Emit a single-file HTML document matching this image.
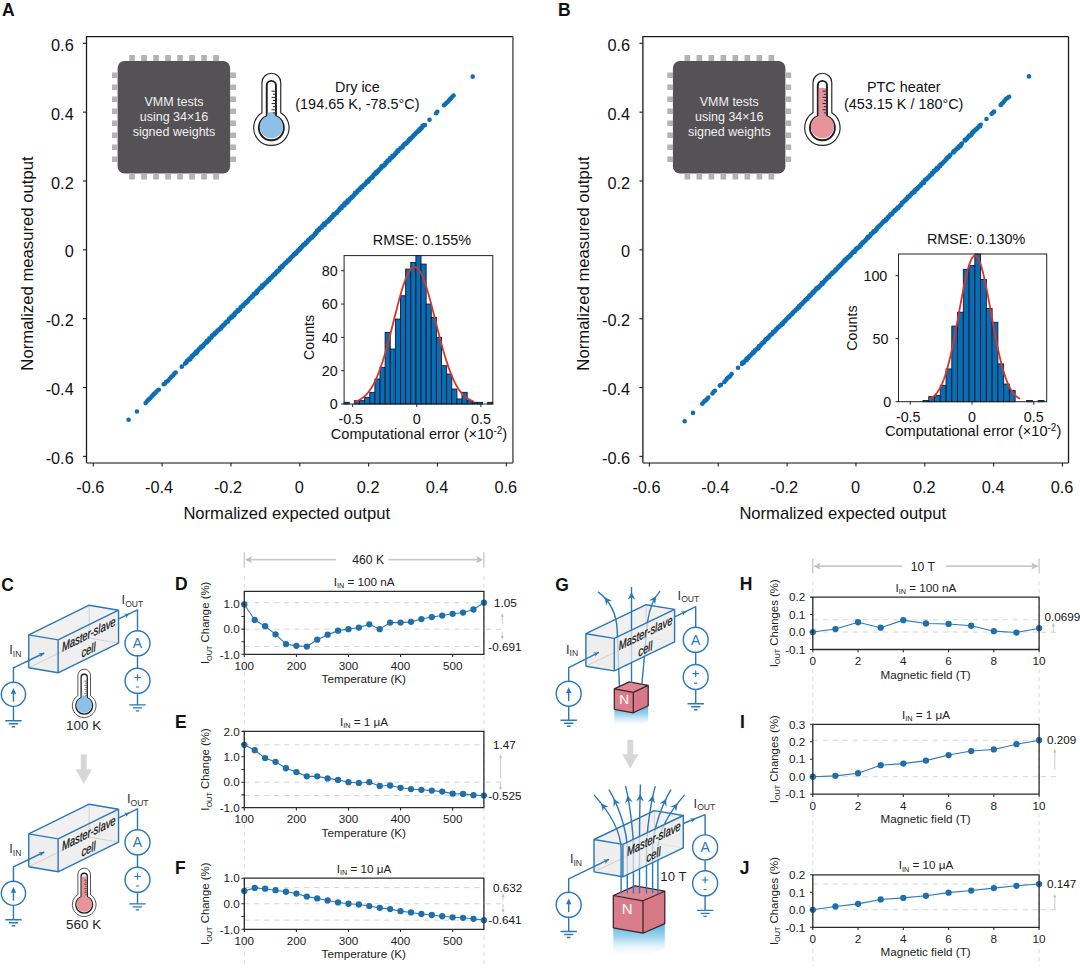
<!DOCTYPE html>
<html><head><meta charset="utf-8"><style>
html,body{margin:0;padding:0;background:#fff;}
svg{display:block;font-family:"Liberation Sans", sans-serif;}
</style></head><body>
<svg width="1080" height="971" viewBox="0 0 1080 971">
<text x="2" y="16" font-size="17.5" text-anchor="start" font-weight="bold" fill="#111" >A</text>
<path d="M86.5 463V36.6H512.9" fill="none" stroke="#1a1a1a" stroke-width="1.3"/>
<path d="M86.5 463H512.9" fill="none" stroke="#5a5a5a" stroke-width="1.6"/>
<path d="M512.9 36.6V463" fill="none" stroke="#6a6a6a" stroke-width="1.7"/>
<line x1="83.0" y1="43.3" x2="86.5" y2="43.3" stroke="#1e1e1e" stroke-width="1.1"/>
<text x="73.7" y="50.8" font-size="16.3" text-anchor="end" font-weight="normal" fill="#111" >0.6</text>
<line x1="83.0" y1="112.15" x2="86.5" y2="112.15" stroke="#1e1e1e" stroke-width="1.1"/>
<text x="73.7" y="119.65" font-size="16.3" text-anchor="end" font-weight="normal" fill="#111" >0.4</text>
<line x1="83.0" y1="181" x2="86.5" y2="181" stroke="#1e1e1e" stroke-width="1.1"/>
<text x="73.7" y="188.5" font-size="16.3" text-anchor="end" font-weight="normal" fill="#111" >0.2</text>
<line x1="83.0" y1="249.85" x2="86.5" y2="249.85" stroke="#1e1e1e" stroke-width="1.1"/>
<text x="73.7" y="257.35" font-size="16.3" text-anchor="end" font-weight="normal" fill="#111" >0</text>
<line x1="83.0" y1="318.7" x2="86.5" y2="318.7" stroke="#1e1e1e" stroke-width="1.1"/>
<text x="73.7" y="326.2" font-size="16.3" text-anchor="end" font-weight="normal" fill="#111" >-0.2</text>
<line x1="83.0" y1="387.55" x2="86.5" y2="387.55" stroke="#1e1e1e" stroke-width="1.1"/>
<text x="73.7" y="395.05" font-size="16.3" text-anchor="end" font-weight="normal" fill="#111" >-0.4</text>
<line x1="83.0" y1="456.4" x2="86.5" y2="456.4" stroke="#1e1e1e" stroke-width="1.1"/>
<text x="73.7" y="463.9" font-size="16.3" text-anchor="end" font-weight="normal" fill="#111" >-0.6</text>
<line x1="93.28" y1="463.0" x2="93.28" y2="466.5" stroke="#1e1e1e" stroke-width="1.1"/>
<text x="90.28" y="492.5" font-size="16.3" text-anchor="middle" font-weight="normal" fill="#111" >-0.6</text>
<line x1="162.12" y1="463.0" x2="162.12" y2="466.5" stroke="#1e1e1e" stroke-width="1.1"/>
<text x="159.12" y="492.5" font-size="16.3" text-anchor="middle" font-weight="normal" fill="#111" >-0.4</text>
<line x1="230.96" y1="463.0" x2="230.96" y2="466.5" stroke="#1e1e1e" stroke-width="1.1"/>
<text x="227.96" y="492.5" font-size="16.3" text-anchor="middle" font-weight="normal" fill="#111" >-0.2</text>
<line x1="299.8" y1="463.0" x2="299.8" y2="466.5" stroke="#1e1e1e" stroke-width="1.1"/>
<text x="299.3" y="492.5" font-size="16.3" text-anchor="middle" font-weight="normal" fill="#111" >0</text>
<line x1="368.64" y1="463.0" x2="368.64" y2="466.5" stroke="#1e1e1e" stroke-width="1.1"/>
<text x="368.14" y="492.5" font-size="16.3" text-anchor="middle" font-weight="normal" fill="#111" >0.2</text>
<line x1="437.48" y1="463.0" x2="437.48" y2="466.5" stroke="#1e1e1e" stroke-width="1.1"/>
<text x="436.98" y="492.5" font-size="16.3" text-anchor="middle" font-weight="normal" fill="#111" >0.4</text>
<line x1="506.32" y1="463.0" x2="506.32" y2="466.5" stroke="#1e1e1e" stroke-width="1.1"/>
<text x="505.82" y="492.5" font-size="16.3" text-anchor="middle" font-weight="normal" fill="#111" >0.6</text>
<text x="286.7" y="518.5" font-size="16.6" text-anchor="middle" font-weight="normal" fill="#111" >Normalized expected output</text>
<text transform="translate(33,263.5) rotate(-90)" font-size="16.7" text-anchor="middle" fill="#111">Normalized measured output</text>
<rect x="117.6" y="61" width="112.5" height="112.5" rx="7" fill="#545254"/>
<path d="M129.2 55h5.7v6h-5.7z M129.2 173.5h5.7v6h-5.7z M112 72.4h5.8v5.6h-5.8z M230.1 72.4h5.8v5.6h-5.8z M141.2 55h5.7v6h-5.7z M141.2 173.5h5.7v6h-5.7z M112 84.4h5.8v5.6h-5.8z M230.1 84.4h5.8v5.6h-5.8z M153.2 55h5.7v6h-5.7z M153.2 173.5h5.7v6h-5.7z M112 96.4h5.8v5.6h-5.8z M230.1 96.4h5.8v5.6h-5.8z M165.2 55h5.7v6h-5.7z M165.2 173.5h5.7v6h-5.7z M112 108.4h5.8v5.6h-5.8z M230.1 108.4h5.8v5.6h-5.8z M177.2 55h5.7v6h-5.7z M177.2 173.5h5.7v6h-5.7z M112 120.4h5.8v5.6h-5.8z M230.1 120.4h5.8v5.6h-5.8z M189.2 55h5.7v6h-5.7z M189.2 173.5h5.7v6h-5.7z M112 132.4h5.8v5.6h-5.8z M230.1 132.4h5.8v5.6h-5.8z M201.2 55h5.7v6h-5.7z M201.2 173.5h5.7v6h-5.7z M112 144.4h5.8v5.6h-5.8z M230.1 144.4h5.8v5.6h-5.8z M213.2 55h5.7v6h-5.7z M213.2 173.5h5.7v6h-5.7z M112 156.4h5.8v5.6h-5.8z M230.1 156.4h5.8v5.6h-5.8z" fill="#b3b3b3"/>
<text x="174" y="106" font-size="12.5" text-anchor="middle" font-weight="normal" fill="#f0f0f0" >VMM tests</text>
<text x="174" y="121" font-size="12.5" text-anchor="middle" font-weight="normal" fill="#f0f0f0" >using 34×16</text>
<text x="174" y="136" font-size="12.5" text-anchor="middle" font-weight="normal" fill="#f0f0f0" >signed weights</text>
<g transform="translate(271.35,127.65) scale(1.0)">
<path d="M-9.4 -45.0 A9.4 9.4 0 0 1 9.4 -45.0 V-14.9 A17.7 17.7 0 1 1 -9.4 -14.9 Z" fill="#fff" stroke="#222" stroke-width="1.15"/>
<path d="M-4.6 -42.2 A4.6 4.6 0 0 1 4.6 -42.2 V-11.5 A12.5 12.5 0 1 1 -4.6 -11.5 Z" fill="#fff" stroke="#1e1e1e" stroke-width="1.9"/>
<path d="M-3.7 -15.5 H3.7 V-11.9 A11.6 11.6 0 1 1 -3.7 -11.9 Z" fill="#8cc0e8"/>
<path d="M0.2 -36.5H3.8 M1.5 -33.4H3.8 M0.2 -30.3H3.8 M1.5 -27.2H3.8 M0.2 -24.1H3.8 M1.5 -21H3.8 M0.2 -17.9H3.8 M1.5 -14.8H3.8" stroke="#1e1e1e" stroke-width="0.95" fill="none"/>
</g>
<text x="357.4" y="92" font-size="14.4" text-anchor="middle" font-weight="normal" fill="#111" >Dry ice</text>
<text x="357.4" y="108.5" font-size="14.4" text-anchor="middle" font-weight="normal" fill="#111" >(194.65 K, -78.5°C)</text>
<path d="M185.09 363.59h0M185.44 363.22h0M186.22 362.19h0M186.7 361.88h0M186.92 361.15h0M187.45 360.84h0M188.15 360.37h0M188.53 359.61h0M189.28 359.76h0M189.64 358.63h0M190.49 359.01h0M190.57 358.01h0M190.99 357.53h0M191.89 357.01h0M192.01 355.82h0M192.62 355.53h0M193.23 355.42h0M193.52 354.85h0M194.31 354h0M194.75 353.95h0M195.17 353.1h0M195.82 353.45h0M196.05 351.89h0M196.93 351.6h0M197.34 351.06h0M197.47 351.84h0M198.15 350.32h0M198.69 349.6h0M198.92 349h0M199.74 348.25h0M200.43 348.09h0M200.76 348.36h0M201.25 346.62h0M201.97 347.02h0M202.18 346.26h0M202.82 345.71h0M203.29 346.03h0M203.57 344.8h0M204.13 344.29h0M204.68 343.76h0M205 343.43h0M205.86 342.92h0M205.98 342.34h0M206.92 342.22h0M206.95 340.88h0M207.93 340.99h0M208.39 340.54h0M208.65 339.61h0M209.12 340.06h0M209.49 338.21h0M210.01 338.38h0M210.69 338.13h0M211.25 337.35h0M211.65 336.89h0M212.12 335.5h0M212.81 335.48h0M213.21 334.94h0M213.43 334.48h0M214.44 334.51h0M214.88 333.1h0M215.14 333.22h0M215.78 332.97h0M215.94 332.6h0M216.5 331.98h0M217.1 331.38h0M217.49 330.87h0M217.96 330.32h0M218.92 329.94h0M219.27 329.55h0M219.61 329.11h0M220.12 328.91h0M221 328.4h0M221.18 327.22h0M221.46 326.9h0M222.11 326.32h0M222.5 326.6h0M222.91 325.83h0M223.49 324.75h0M224.23 324.85h0M224.99 323.97h0M225.42 323.3h0M225.62 322.62h0M226 322.46h0M226.87 321.44h0M227.1 321.52h0M227.99 321.59h0M228.41 320.65h0M228.84 319.25h0M229.04 319.05h0M229.42 318.87h0M229.92 318.36h0M230.82 318.2h0M231.47 316.57h0M231.99 317.21h0M232.47 316.24h0M232.54 316.12h0M233.02 315.57h0M233.94 315.43h0M234.4 313.87h0M234.88 313.99h0M234.95 312.98h0M235.87 312.22h0M236.35 312.19h0M236.87 311.96h0M237.1 311.75h0M237.64 309.97h0M238.14 311.01h0M238.5 309.74h0M238.98 309.92h0M239.88 309.61h0M239.99 308.93h0M240.79 307h0M241.11 307.25h0M241.41 306.88h0M242.48 306.17h0M242.96 305.57h0M243.16 305.94h0M243.53 304.44h0M244.05 304.38h0M244.75 304.23h0M245.06 303.28h0M245.95 303.06h0M246.11 301.97h0M246.94 302.09h0M247.15 301.85h0M247.72 300.74h0M248.21 300.87h0M248.51 300.01h0M248.9 299.54h0M249.68 298.75h0M250.34 298.15h0M250.71 297.86h0M251.23 297.51h0M251.74 296.8h0M252.05 296.37h0M252.7 296.62h0M253.24 295.53h0M253.67 294.14h0M254.27 294.03h0M254.82 293.97h0M255.17 293.06h0M255.96 292.9h0M256.32 293.14h0M256.56 291.36h0M257.24 292.17h0M257.48 290.74h0M257.97 290.36h0M258.54 290.05h0M258.94 289.18h0M259.94 288.42h0M259.99 288.38h0M260.49 287.46h0M261.43 287.77h0M261.97 286.95h0M262.14 285.36h0M262.9 286.1h0M263 285.09h0M263.6 285.2h0M264.02 284.26h0M264.41 284.57h0M265.23 283.45h0M265.6 283.04h0M266.27 282.38h0M266.99 282.01h0M267.37 281.7h0M267.56 280.99h0M267.92 280.58h0M268.48 279.73h0M269.15 280.13h0M269.56 278.66h0M269.99 278.96h0M270.82 277.79h0M270.95 278.08h0M271.66 277.24h0M271.94 277.04h0M272.88 275.84h0M272.95 275.63h0M273.92 274.93h0M274.17 274.29h0M274.96 274.45h0M275.06 273.87h0M275.54 273.39h0M275.97 272.61h0M276.52 272.16h0M277.09 271.34h0M277.57 271.66h0M278.2 270.71h0M278.41 270.37h0M279.05 270.17h0M279.73 269.12h0M280.01 267.69h0M280.46 268.2h0M281.39 267.16h0M281.9 267.25h0M282.14 265.99h0M282.99 266.05h0M283.11 265.87h0M283.78 264.56h0M284.14 264.5h0M284.48 264.18h0M284.94 263.56h0M285.5 262.79h0M285.95 263h0M286.8 261.44h0M287.07 261.6h0M287.68 261.4h0M287.99 260.31h0M288.98 260.19h0M289.48 259.32h0M289.98 259.01h0M290.09 258.58h0M290.63 258.11h0M291.18 257.34h0M291.7 257.09h0M291.9 256.58h0M292.64 256.26h0M292.93 255.92h0M293.54 255.15h0M294.25 253.98h0M294.79 253.99h0M295.33 253.88h0M295.6 252.85h0M296.49 252.97h0M296.79 252.61h0M296.93 252.02h0M297.78 250.43h0M298.34 250.7h0M298.71 249.93h0M299.2 249.97h0M299.9 248.53h0M300.25 249.07h0M300.82 247.77h0M301.04 247.83h0M301.62 247.17h0M301.96 246.88h0M302.78 245.71h0M303.28 245.45h0M303.4 244.73h0M304.38 244.63h0M304.72 243.69h0M305.3 244.21h0M305.55 243.39h0M305.94 242.58h0M306.52 242.75h0M307.34 242.08h0M307.63 241.08h0M308.19 240.39h0M308.77 239.56h0M309.29 239.84h0M309.55 239.25h0M310.35 238.49h0M310.41 238.62h0M310.94 237.59h0M311.82 237.72h0M312.31 236.54h0M312.68 236.6h0M313.18 236.25h0M313.52 235.71h0M314.49 234.73h0M314.68 234.14h0M315.39 234.08h0M315.56 233.09h0M316.03 232.92h0M316.75 232.09h0M316.99 230.75h0M317.48 231.04h0M318.39 229.89h0M318.82 230.14h0M319.04 230.03h0M319.41 228.92h0M319.9 228.27h0M320.58 228.21h0M320.98 227.5h0M321.9 227.46h0M321.9 226.69h0M322.47 225.47h0M323.46 225.51h0M323.57 224.4h0M324.12 223.61h0M324.75 225.07h0M325.12 223.43h0M325.43 223.33h0M325.96 222.86h0M326.96 221.94h0M327.05 221.66h0M327.51 221.66h0M328.12 221.47h0M328.89 220h0M329.28 220.49h0M329.73 218.75h0M330.33 219.3h0M330.67 218.41h0M331.35 217.53h0M331.43 216.97h0M332.46 217.02h0M332.61 216.53h0M333.08 215.65h0M333.56 214.19h0M334.29 214.58h0M334.64 214.69h0M335 213.87h0M335.94 213.45h0M336.2 212.89h0M337 213.05h0M337.17 211.9h0M337.45 211.43h0M338.11 210.98h0M338.56 210.39h0M339.24 210.22h0M339.65 208.83h0M340.15 208.38h0M340.6 208.19h0M340.94 207.58h0M341.48 208.23h0M342.2 206.23h0M342.53 205.7h0M343.06 205.76h0M343.67 205.64h0M344.47 205.21h0M344.41 203.63h0M344.92 203.56h0M345.68 202.48h0M346.25 203.14h0M346.96 202.27h0M347.4 202.39h0M347.55 200.47h0M347.97 201.03h0M348.81 200.65h0M349.46 199.68h0M349.86 198.73h0M350.17 198.67h0M350.87 198.24h0M351.04 198.26h0M351.58 197.02h0M351.98 196.78h0M352.82 196.82h0M352.97 196.2h0M353.75 195.49h0M354.13 194.87h0M354.41 194.8h0M355.08 192.86h0M355.79 193.53h0M356.43 192.52h0M356.55 192.34h0M357.48 191.71h0M357.41 190.99h0M358.2 190.62h0M358.55 189.95h0M359.3 190.05h0M359.42 189.18h0M360.1 188.3h0M360.52 188.58h0M361.38 187.78h0M361.52 186.86h0M362.48 186.55h0M362.54 186.97h0M363.03 185.84h0M363.97 185h0M364.2 184.92h0M364.65 184.57h0M365.3 184.02h0M365.64 183.26h0M366.03 183.03h0M366.43 182.29h0M366.94 181.19h0M367.93 181.83h0M368.34 181.71h0M368.6 180.32h0M369.01 180.41h0M369.42 179.09h0M370.3 178.57h0M370.6 178.59h0M371 178.15h0M371.61 177.35h0M372.47 177.54h0M372.52 177.03h0M373.11 176.15h0M373.66 174.71h0M373.93 174.49h0M374.95 174.41h0M375.02 173.32h0M375.42 173.96h0M376.15 173.1h0M376.42 171.76h0M376.92 172.65h0M377.55 171.69h0M378.35 171.14h0M378.56 170.16h0M379.47 169.64h0M379.83 169.17h0M380.09 168.86h0M380.85 168.4h0M381.45 167.26h0M381.41 166.69h0M382.04 165.93h0M382.97 166.52h0M383.13 165.87h0M383.7 165.78h0M384.46 165.16h0M384.84 165.01h0M385.39 163.96h0M385.6 162.87h0M386.09 162.46h0M386.45 162.89h0M387.02 161.89h0M387.44 161.1h0M387.92 160.57h0M388.99 160.28h0M389.43 160.19h0M389.45 159.37h0M389.96 158.3h0M390.67 158.41h0M391.04 157.44h0M391.8 157.67h0M392.35 157.23h0M392.47 155.95h0M393.4 155.77h0M393.62 155.88h0M394.34 155h0M394.55 154.68h0M394.99 154.29h0M395.6 153.08h0M396.14 153.37h0M396.54 152.4h0M397.39 151.25h0M397.46 150.46h0M398.18 151.23h0M398.95 149.76h0M398.92 149.87h0M399.51 149.61h0M400.48 148.17h0M400.62 147.99h0M401.42 147.65h0M401.87 147.53h0M402.47 147.34h0M402.77 146.75h0M403.03 145.8h0M403.52 145.59h0M404.05 144.49h0M404.52 144.12h0M404.91 143.68h0M405.51 143.95h0M406.09 143.14h0M406.73 143.1h0M406.94 142.26h0M407.73 141.68h0M408.28 141.14h0M408.82 140.58h0M409.15 139.89h0M409.97 139.78h0M410.09 138.63h0M410.65 138.32h0M411.42 138.32h0M411.52 137.46h0M412.34 136.98h0M412.94 136.51h0M413.15 136.13h0M413.93 135.12h0M414.18 135.01h0M414.73 134.53h0M415.28 134.11h0M415.77 133.39h0M416.12 132.76h0M416.57 132.47h0M417.21 132.14h0M417.69 131.4h0M418.38 131.23h0M418.48 130.43h0M419.47 130.42h0M419.43 129.42h0M420.46 128.36h0M420.77 129.02h0M421.39 128.35h0M421.53 128.06h0M422.14 127.4h0M422.51 125.91h0M423.03 125.63h0M423.63 125.77h0M423.97 125.01h0M424.94 125.11h0M145.6 403.12h0M146.8 401.65h0M148 400.36h0M149.2 399.08h0M150.4 398.05h0M151.6 396.64h0M152.8 395.27h0M154 394.16h0M155.2 393h0M156.4 391.8h0M157.6 390.44h0M158.8 389.78h0M163.7 384.31h0M164.9 383.71h0M166.1 382.01h0M167.3 381.22h0M168.5 380.33h0M169.7 378.79h0M170.9 377.31h0M172.1 376.35h0M173.3 375.18h0M174.5 373.42h0M175.7 372.56h0M436.1 113.19h0M437.3 111.8h0M444 105.29h0M445.2 104.29h0M446.4 103.1h0M447.6 101.95h0M448.8 100.65h0M450 99.19h0M451.2 98.08h0M452.4 96.81h0M453.6 95.6h0M128.6 419.7h0M136.9 411.43h0M181.8 366.66h0M429.5 119.72h0M472.7 76.65h0" stroke="#0d6fb3" stroke-width="4.6" stroke-linecap="round" fill="none"/>
<g fill="#0a6db3" stroke="#0c1b33" stroke-width="0.9"><rect x="344.1" y="402.33" width="5.13" height="1.67"/><rect x="354.36" y="400.67" width="5.13" height="3.33"/><rect x="359.48" y="400.67" width="5.13" height="3.33"/><rect x="364.61" y="397.34" width="5.13" height="6.66"/><rect x="369.74" y="392.34" width="5.13" height="11.66"/><rect x="374.87" y="379.02" width="5.13" height="24.98"/><rect x="379.99" y="367.36" width="5.13" height="36.64"/><rect x="385.12" y="332.38" width="5.13" height="71.62"/><rect x="390.25" y="349.04" width="5.13" height="54.96"/><rect x="395.38" y="319.06" width="5.13" height="84.94"/><rect x="400.5" y="295.74" width="5.13" height="108.26"/><rect x="405.63" y="269.09" width="5.13" height="134.91"/><rect x="410.76" y="262.43" width="5.13" height="141.57"/><rect x="415.89" y="255.6" width="5.13" height="148.4"/><rect x="421.01" y="264.09" width="5.13" height="139.91"/><rect x="426.14" y="304.07" width="5.13" height="99.93"/><rect x="431.27" y="317.39" width="5.13" height="86.61"/><rect x="436.4" y="337.38" width="5.13" height="66.62"/><rect x="441.52" y="365.69" width="5.13" height="38.31"/><rect x="446.65" y="374.02" width="5.13" height="29.98"/><rect x="451.78" y="389.01" width="5.13" height="14.99"/><rect x="456.91" y="399" width="5.13" height="5"/><rect x="462.03" y="392.34" width="5.13" height="11.66"/><rect x="467.16" y="400.67" width="5.13" height="3.33"/><rect x="472.29" y="402.33" width="5.13" height="1.67"/><rect x="477.42" y="402.33" width="5.13" height="1.67"/><rect x="487.67" y="402.33" width="5.13" height="1.67"/></g>
<path d="M355.04 401.64 L356.04 401.3 L357.04 400.91 L358.04 400.48 L359.04 400 L360.04 399.46 L361.04 398.86 L362.04 398.2 L363.04 397.47 L364.04 396.66 L365.04 395.76 L366.04 394.79 L367.04 393.71 L368.04 392.54 L369.04 391.27 L370.04 389.89 L371.04 388.39 L372.04 386.77 L373.04 385.03 L374.04 383.16 L375.04 381.16 L376.04 379.02 L377.04 376.74 L378.04 374.33 L379.04 371.78 L380.04 369.08 L381.04 366.25 L382.04 363.28 L383.04 360.18 L384.04 356.95 L385.04 353.6 L386.04 350.13 L387.04 346.56 L388.04 342.89 L389.04 339.13 L390.04 335.3 L391.04 331.41 L392.04 327.47 L393.04 323.5 L394.04 319.53 L395.04 315.56 L396.04 311.61 L397.04 307.71 L398.04 303.87 L399.04 300.12 L400.04 296.48 L401.04 292.96 L402.04 289.59 L403.04 286.38 L404.04 283.37 L405.04 280.55 L406.04 277.97 L407.04 275.62 L408.04 273.52 L409.04 271.7 L410.04 270.16 L411.04 268.91 L412.04 267.95 L413.04 267.31 L414.04 266.98 L415.04 266.96 L416.04 267.25 L417.04 267.85 L418.04 268.76 L419.04 269.98 L420.04 271.48 L421.04 273.27 L422.04 275.33 L423.04 277.65 L424.04 280.21 L425.04 282.99 L426.04 285.98 L427.04 289.16 L428.04 292.51 L429.04 296.01 L430.04 299.64 L431.04 303.38 L432.04 307.21 L433.04 311.1 L434.04 315.04 L435.04 319.01 L436.04 322.99 L437.04 326.96 L438.04 330.9 L439.04 334.79 L440.04 338.63 L441.04 342.4 L442.04 346.09 L443.04 349.67 L444.04 353.16 L445.04 356.52 L446.04 359.77 L447.04 362.89 L448.04 365.87 L449.04 368.72 L450.04 371.43 L451.04 374.01 L452.04 376.44 L453.04 378.73 L454.04 380.89 L455.04 382.91 L456.04 384.79 L457.04 386.55 L458.04 388.18 L459.04 389.7 L460.04 391.1 L461.04 392.38 L462.04 393.57 L463.04 394.65 L464.04 395.64 L465.04 396.55 L466.04 397.37 L467.04 398.11 L468.04 398.78 L469.04 399.39 L470.04 399.93 L471.04 400.42 L472.04 400.86 L473.04 401.25 L474.04 401.6" fill="none" stroke="#d8342a" stroke-width="1.8"/>
<rect x="344.1" y="255.6" width="148.7" height="148.4" fill="none" stroke="#222" stroke-width="1"/>
<line x1="341.1" y1="404" x2="344.1" y2="404" stroke="#222" stroke-width="1"/>
<text x="337.6" y="409.2" font-size="14.3" text-anchor="end" font-weight="normal" fill="#111" >0</text>
<line x1="341.1" y1="370.69" x2="344.1" y2="370.69" stroke="#222" stroke-width="1"/>
<text x="337.6" y="375.89" font-size="14.3" text-anchor="end" font-weight="normal" fill="#111" >20</text>
<line x1="341.1" y1="337.38" x2="344.1" y2="337.38" stroke="#222" stroke-width="1"/>
<text x="337.6" y="342.58" font-size="14.3" text-anchor="end" font-weight="normal" fill="#111" >40</text>
<line x1="341.1" y1="304.07" x2="344.1" y2="304.07" stroke="#222" stroke-width="1"/>
<text x="337.6" y="309.27" font-size="14.3" text-anchor="end" font-weight="normal" fill="#111" >60</text>
<line x1="341.1" y1="270.76" x2="344.1" y2="270.76" stroke="#222" stroke-width="1"/>
<text x="337.6" y="275.96" font-size="14.3" text-anchor="end" font-weight="normal" fill="#111" >80</text>
<line x1="352.7" y1="404.0" x2="352.7" y2="407.0" stroke="#222" stroke-width="1"/>
<text x="350.7" y="424" font-size="14.3" text-anchor="middle" font-weight="normal" fill="#111" >-0.5</text>
<line x1="416.8" y1="404.0" x2="416.8" y2="407.0" stroke="#222" stroke-width="1"/>
<text x="416.8" y="424" font-size="14.3" text-anchor="middle" font-weight="normal" fill="#111" >0</text>
<line x1="480.9" y1="404.0" x2="480.9" y2="407.0" stroke="#222" stroke-width="1"/>
<text x="480.9" y="424" font-size="14.3" text-anchor="middle" font-weight="normal" fill="#111" >0.5</text>
<text x="418.95" y="438.5" font-size="14.6" text-anchor="middle" font-weight="normal" fill="#111" >Computational error (×10<tspan dy="-5" font-size="10">-2</tspan><tspan dy="5">)</tspan></text>
<text x="421.95" y="245.1" font-size="14.4" text-anchor="middle" font-weight="normal" fill="#111" >RMSE: 0.155%</text>
<text transform="translate(314,337.4) rotate(-90)" font-size="14.3" text-anchor="middle" fill="#111">Counts</text>
<text x="558" y="16" font-size="17.5" text-anchor="start" font-weight="bold" fill="#111" >B</text>
<path d="M642.89 463V36.6H1068.51" fill="none" stroke="#1a1a1a" stroke-width="1.3"/>
<path d="M642.89 463H1068.51" fill="none" stroke="#5a5a5a" stroke-width="1.6"/>
<path d="M1068.51 36.6V463" fill="none" stroke="#1a1a1a" stroke-width="1.3"/>
<line x1="639.3892" y1="43.3" x2="642.8892" y2="43.3" stroke="#1e1e1e" stroke-width="1.1"/>
<text x="630.09" y="50.8" font-size="16.3" text-anchor="end" font-weight="normal" fill="#111" >0.6</text>
<line x1="639.3892" y1="112.15" x2="642.8892" y2="112.15" stroke="#1e1e1e" stroke-width="1.1"/>
<text x="630.09" y="119.65" font-size="16.3" text-anchor="end" font-weight="normal" fill="#111" >0.4</text>
<line x1="639.3892" y1="181" x2="642.8892" y2="181" stroke="#1e1e1e" stroke-width="1.1"/>
<text x="630.09" y="188.5" font-size="16.3" text-anchor="end" font-weight="normal" fill="#111" >0.2</text>
<line x1="639.3892" y1="249.85" x2="642.8892" y2="249.85" stroke="#1e1e1e" stroke-width="1.1"/>
<text x="630.09" y="257.35" font-size="16.3" text-anchor="end" font-weight="normal" fill="#111" >0</text>
<line x1="639.3892" y1="318.7" x2="642.8892" y2="318.7" stroke="#1e1e1e" stroke-width="1.1"/>
<text x="630.09" y="326.2" font-size="16.3" text-anchor="end" font-weight="normal" fill="#111" >-0.2</text>
<line x1="639.3892" y1="387.55" x2="642.8892" y2="387.55" stroke="#1e1e1e" stroke-width="1.1"/>
<text x="630.09" y="395.05" font-size="16.3" text-anchor="end" font-weight="normal" fill="#111" >-0.4</text>
<line x1="639.3892" y1="456.4" x2="642.8892" y2="456.4" stroke="#1e1e1e" stroke-width="1.1"/>
<text x="630.09" y="463.9" font-size="16.3" text-anchor="end" font-weight="normal" fill="#111" >-0.6</text>
<line x1="649.43" y1="463.0" x2="649.43" y2="466.5" stroke="#1e1e1e" stroke-width="1.1"/>
<text x="646.43" y="492.5" font-size="16.3" text-anchor="middle" font-weight="normal" fill="#111" >-0.6</text>
<line x1="718.27" y1="463.0" x2="718.27" y2="466.5" stroke="#1e1e1e" stroke-width="1.1"/>
<text x="715.27" y="492.5" font-size="16.3" text-anchor="middle" font-weight="normal" fill="#111" >-0.4</text>
<line x1="787.11" y1="463.0" x2="787.11" y2="466.5" stroke="#1e1e1e" stroke-width="1.1"/>
<text x="784.11" y="492.5" font-size="16.3" text-anchor="middle" font-weight="normal" fill="#111" >-0.2</text>
<line x1="855.95" y1="463.0" x2="855.95" y2="466.5" stroke="#1e1e1e" stroke-width="1.1"/>
<text x="855.45" y="492.5" font-size="16.3" text-anchor="middle" font-weight="normal" fill="#111" >0</text>
<line x1="924.79" y1="463.0" x2="924.79" y2="466.5" stroke="#1e1e1e" stroke-width="1.1"/>
<text x="924.29" y="492.5" font-size="16.3" text-anchor="middle" font-weight="normal" fill="#111" >0.2</text>
<line x1="993.63" y1="463.0" x2="993.63" y2="466.5" stroke="#1e1e1e" stroke-width="1.1"/>
<text x="993.13" y="492.5" font-size="16.3" text-anchor="middle" font-weight="normal" fill="#111" >0.4</text>
<line x1="1062.47" y1="463.0" x2="1062.47" y2="466.5" stroke="#1e1e1e" stroke-width="1.1"/>
<text x="1061.97" y="492.5" font-size="16.3" text-anchor="middle" font-weight="normal" fill="#111" >0.6</text>
<text x="842.7" y="518.5" font-size="16.6" text-anchor="middle" font-weight="normal" fill="#111" >Normalized expected output</text>
<text transform="translate(589,263.5) rotate(-90)" font-size="16.7" text-anchor="middle" fill="#111">Normalized measured output</text>
<rect x="672.9" y="61" width="112.5" height="112.5" rx="7" fill="#545254"/>
<path d="M684.5 55h5.7v6h-5.7z M684.5 173.5h5.7v6h-5.7z M667.3 72.4h5.8v5.6h-5.8z M785.4 72.4h5.8v5.6h-5.8z M696.5 55h5.7v6h-5.7z M696.5 173.5h5.7v6h-5.7z M667.3 84.4h5.8v5.6h-5.8z M785.4 84.4h5.8v5.6h-5.8z M708.5 55h5.7v6h-5.7z M708.5 173.5h5.7v6h-5.7z M667.3 96.4h5.8v5.6h-5.8z M785.4 96.4h5.8v5.6h-5.8z M720.5 55h5.7v6h-5.7z M720.5 173.5h5.7v6h-5.7z M667.3 108.4h5.8v5.6h-5.8z M785.4 108.4h5.8v5.6h-5.8z M732.5 55h5.7v6h-5.7z M732.5 173.5h5.7v6h-5.7z M667.3 120.4h5.8v5.6h-5.8z M785.4 120.4h5.8v5.6h-5.8z M744.5 55h5.7v6h-5.7z M744.5 173.5h5.7v6h-5.7z M667.3 132.4h5.8v5.6h-5.8z M785.4 132.4h5.8v5.6h-5.8z M756.5 55h5.7v6h-5.7z M756.5 173.5h5.7v6h-5.7z M667.3 144.4h5.8v5.6h-5.8z M785.4 144.4h5.8v5.6h-5.8z M768.5 55h5.7v6h-5.7z M768.5 173.5h5.7v6h-5.7z M667.3 156.4h5.8v5.6h-5.8z M785.4 156.4h5.8v5.6h-5.8z" fill="#b3b3b3"/>
<text x="729.3" y="106" font-size="12.5" text-anchor="middle" font-weight="normal" fill="#f0f0f0" >VMM tests</text>
<text x="729.3" y="121" font-size="12.5" text-anchor="middle" font-weight="normal" fill="#f0f0f0" >using 34×16</text>
<text x="729.3" y="136" font-size="12.5" text-anchor="middle" font-weight="normal" fill="#f0f0f0" >signed weights</text>
<g transform="translate(822.4,127.65) scale(1.0)">
<path d="M-9.4 -45.0 A9.4 9.4 0 0 1 9.4 -45.0 V-14.9 A17.7 17.7 0 1 1 -9.4 -14.9 Z" fill="#fff" stroke="#222" stroke-width="1.15"/>
<path d="M-4.6 -42.2 A4.6 4.6 0 0 1 4.6 -42.2 V-11.5 A12.5 12.5 0 1 1 -4.6 -11.5 Z" fill="#fff" stroke="#1e1e1e" stroke-width="1.9"/>
<path d="M-3.7 -39.75 H3.7 V-11.9 A11.6 11.6 0 1 1 -3.7 -11.9 Z" fill="#e6939a"/>
<path d="M0.2 -36.5H3.8 M1.5 -33.4H3.8 M0.2 -30.3H3.8 M1.5 -27.2H3.8 M0.2 -24.1H3.8 M1.5 -21H3.8 M0.2 -17.9H3.8 M1.5 -14.8H3.8" stroke="#1e1e1e" stroke-width="0.95" fill="none"/>
</g>
<text x="903.75" y="92" font-size="14.4" text-anchor="middle" font-weight="normal" fill="#111" >PTC heater</text>
<text x="903.75" y="108.5" font-size="14.4" text-anchor="middle" font-weight="normal" fill="#111" >(453.15 K / 180°C)</text>
<path d="M742.04 364h0M742.13 362.97h0M742.9 362.24h0M743.18 363.06h0M744.11 362.53h0M744.59 361.4h0M744.72 361.35h0M745.67 360.36h0M746.15 360.25h0M746.66 359.99h0M746.64 358.53h0M747.2 358.92h0M748.14 357.8h0M748.19 358.1h0M748.9 357.13h0M749.26 356.28h0M749.9 355.86h0M750.21 355.5h0M750.7 355.43h0M751.64 354.18h0M751.7 353.94h0M752.42 353.22h0M752.98 352.41h0M753.43 353h0M753.95 352.03h0M754.7 351.28h0M754.98 350.36h0M755.26 350.82h0M756.19 349.58h0M756.56 349.23h0M756.87 349.17h0M757.13 348.96h0M758.09 347.88h0M758.69 347.94h0M758.95 346.72h0M759.1 346.11h0M759.62 346.2h0M760.36 345.81h0M760.91 345.05h0M761.24 344.27h0M761.99 343.92h0M762.31 343.39h0M762.66 342.72h0M763.45 342.6h0M763.95 342.04h0M764.38 341.89h0M764.68 341.15h0M765.19 340.27h0M765.66 339.38h0M766.57 338.79h0M766.84 338.88h0M767.49 338.44h0M767.94 337.56h0M768.37 337.82h0M769.16 336.85h0M769.64 336.09h0M769.63 335.5h0M770.24 335.3h0M770.64 334.89h0M771.43 334.32h0M772.16 334.03h0M772.46 333.57h0M772.9 332.43h0M773.2 331.83h0M773.79 331.83h0M774.63 331.48h0M775.07 330.86h0M775.61 330.33h0M776.05 329.26h0M776.37 329.5h0M776.74 329.08h0M777.12 328.54h0M777.8 327.86h0M778.61 326.78h0M779.03 326.81h0M779.36 326.84h0M780.07 325.57h0M780.49 325.32h0M781.18 325.02h0M781.11 325.13h0M781.76 323.91h0M782.67 323.98h0M783.05 322.49h0M783.3 323.05h0M783.74 322.3h0M784.52 321.06h0M785 321.28h0M785.6 320.3h0M786.02 320.11h0M786.53 319.03h0M786.94 318.76h0M787.47 318.6h0M787.65 318.03h0M788.12 317.24h0M788.66 317.16h0M789.19 316.2h0M789.62 316.41h0M790.48 315.5h0M791.02 314.83h0M791.45 314.21h0M791.82 314.13h0M792.63 312.7h0M792.64 313.41h0M793.67 311.72h0M793.66 311.89h0M794.12 311.52h0M795.11 311.04h0M795.6 309.84h0M795.98 309.8h0M796.16 309.51h0M797.05 308.93h0M797.35 308.66h0M797.61 307.82h0M798.53 307.64h0M798.82 306.41h0M799.4 307.22h0M800.11 305.76h0M800.35 305.27h0M800.86 304.88h0M801.52 303.98h0M801.92 303.99h0M802.15 304.07h0M803.09 302.84h0M803.22 302.34h0M804.06 301.86h0M804.39 301.32h0M804.89 300.9h0M805.4 300.09h0M805.81 299.97h0M806.67 299.07h0M806.77 298.95h0M807.4 298.9h0M807.67 297.72h0M808.57 297.2h0M809.02 296.94h0M809.31 295.8h0M809.84 295.19h0M810.15 295.81h0M811.13 295.07h0M811.26 294.36h0M812.14 293.44h0M812.63 293.31h0M812.74 292.36h0M813.55 292.43h0M814.05 291.6h0M814.3 291.03h0M814.69 291.12h0M815.55 289.84h0M815.7 289.2h0M816.45 289.55h0M816.68 288.04h0M817.24 288.49h0M817.71 287.62h0M818.61 287.87h0M818.69 286.96h0M819.3 286.54h0M819.91 285.98h0M820.21 285.59h0M821.19 284.78h0M821.68 284.13h0M821.66 282.99h0M822.58 284.03h0M823.04 282.57h0M823.48 282.4h0M823.66 281.9h0M824.12 281.66h0M824.84 280.95h0M825.4 279.73h0M825.98 279.59h0M826.46 279.34h0M826.84 278.75h0M827.36 277.46h0M827.94 277.79h0M828.24 276.89h0M829.03 277.27h0M829.52 275.84h0M830.11 275.56h0M830.37 274.8h0M830.79 274.67h0M831.35 274.16h0M832.07 273.66h0M832.25 272.76h0M832.85 272.28h0M833.35 272.43h0M834.01 272h0M834.49 271.18h0M835.07 270.44h0M835.68 270.56h0M835.62 269.56h0M836.57 269.22h0M837.16 268.6h0M837.44 268.26h0M837.92 267.68h0M838.48 266.83h0M839.1 266.39h0M839.67 266.22h0M839.73 265.62h0M840.56 264.93h0M840.67 265.13h0M841.13 264.24h0M841.76 263.72h0M842.35 263.31h0M842.85 262.66h0M843.26 261.93h0M843.73 261.72h0M844.42 260.37h0M844.73 260.89h0M845.23 259.91h0M845.68 259.88h0M846.48 258.58h0M846.88 258.51h0M847.68 258.16h0M847.81 257.31h0M848.59 256.72h0M848.88 256.63h0M849.18 256.72h0M850.1 255.31h0M850.26 255.85h0M850.83 254.75h0M851.21 254.66h0M851.6 253.7h0M852.25 252.95h0M852.78 252.36h0M853.48 252.31h0M854 251.19h0M854.61 251.92h0M854.63 251.14h0M855.57 249.52h0M855.68 250.01h0M856.11 248.78h0M856.61 249.28h0M857.25 248.08h0M857.66 247.92h0M858.57 247.46h0M858.81 247.22h0M859.58 246.92h0M859.7 246.15h0M860.57 244.92h0M861 245.27h0M861.6 243.83h0M861.72 243.58h0M862.55 242.8h0M862.86 243.1h0M863.26 241.92h0M863.74 242.02h0M864.14 241.58h0M864.88 241.01h0M865.4 240.59h0M865.92 239.77h0M866.6 239.2h0M866.88 238.22h0M867.6 238.02h0M867.82 236.89h0M868.15 237.71h0M868.98 236.67h0M869.47 236.16h0M870.01 236.04h0M870.69 235.09h0M870.91 233.92h0M871.12 234.31h0M872.03 233.48h0M872.62 232.98h0M872.82 232.27h0M873.56 232.3h0M873.73 231.36h0M874.43 231.38h0M875.1 230.53h0M875.34 230.91h0M875.9 229.66h0M876.68 229.67h0M876.99 228.81h0M877.29 227.89h0M877.78 227.26h0M878.57 226.94h0M878.62 226.58h0M879.43 225.44h0M879.63 225.7h0M880.21 225.26h0M881.15 224.28h0M881.57 223.86h0M882.15 223.31h0M882.48 222.87h0M883.02 222.24h0M883.23 221.88h0M884 221.09h0M884.16 221.38h0M884.71 221.35h0M885.65 220.36h0M885.99 219.23h0M886.57 219.73h0M886.94 218.69h0M887.35 218.53h0M887.79 217.21h0M888.66 217.43h0M888.63 216.61h0M889.17 216.16h0M890.09 214.94h0M890.37 214.81h0M890.61 214.31h0M891.66 214.53h0M892.19 213.31h0M892.16 213.26h0M892.99 212.75h0M893.11 212.41h0M893.6 211.62h0M894.68 211.02h0M894.65 210.83h0M895.11 210.05h0M896.03 209.72h0M896.21 209.81h0M896.63 208.78h0M897.61 207.6h0M898.04 208.15h0M898.53 207.46h0M898.88 206.95h0M899.68 206.07h0M900.03 205.75h0M900.49 205.19h0M901.09 204.97h0M901.54 204.34h0M901.7 203.97h0M902.14 202.85h0M902.82 202.32h0M903.51 202h0M903.69 201.79h0M904.49 200.84h0M904.98 200.35h0M905.57 200.36h0M906.17 199.78h0M906.28 198.7h0M906.64 199.26h0M907.6 198.08h0M907.8 196.85h0M908.6 196.53h0M908.96 196.53h0M909.63 196.55h0M909.83 195.47h0M910.64 194.7h0M911.08 194.67h0M911.26 194.19h0M911.85 193.07h0M912.63 192.81h0M912.63 193.02h0M913.62 191.57h0M913.94 191.56h0M914.58 191.9h0M915.01 190.97h0M915.15 189.98h0M915.93 189.74h0M916.55 188.92h0M917.16 188.71h0M917.51 188.68h0M917.88 187.74h0M918.55 187.44h0M919.07 186.5h0M919.58 186.2h0M920.06 185.71h0M920.64 185.66h0M921.13 184.23h0M921.45 184.1h0M921.71 183.74h0M922.52 183.38h0M922.82 182.3h0M923.41 182h0M923.69 182.9h0M924.32 181.51h0M924.66 180.2h0M925.19 179.66h0M925.96 179.39h0M926.11 179.53h0M926.62 179.41h0M927.39 178.1h0M927.94 177.6h0M928.36 177.8h0M929.17 176.72h0M929.68 175.45h0M929.75 175.89h0M930.21 175.2h0M930.65 175.1h0M931.62 174.29h0M931.87 174.43h0M932.14 172.87h0M932.96 172.49h0M933.68 172.25h0M933.75 171.14h0M934.67 170.92h0M935 170.31h0M935.2 170.39h0M936.18 169.9h0M936.12 169.12h0M936.75 168.14h0M937.64 168.79h0M938.1 168.27h0M938.53 167.33h0M938.99 166.76h0M939.19 166.12h0M940.05 166.16h0M940.28 164.92h0M940.95 164.64h0M941.29 163.95h0M941.75 163.94h0M942.2 163.43h0M942.74 162.98h0M943.11 162.57h0M944.03 161.66h0M944.66 161.22h0M944.73 161.32h0M945.63 159.81h0M945.68 159.46h0M946.66 159.18h0M947.11 158.33h0M947.3 157.82h0M948.09 157.09h0M948.19 157.19h0M948.73 157.18h0M949.43 156.33h0M949.69 155.82h0M950.35 154.9h0M953.19 152.01h0M953.8 152.33h0M954.2 150.78h0M955.14 150.63h0M955.17 150.24h0M956.14 149.59h0M956.5 149.21h0M956.77 149.02h0M957.25 148.21h0M958.19 147.95h0M958.7 147.26h0M958.77 146.52h0M959.64 146.67h0M959.78 145.82h0M960.69 145.79h0M960.8 144.67h0M961.18 144.82h0M961.92 143.61h0M964.71 139.82h0M965.23 140.42h0M965.94 139.75h0M966.56 139.27h0M967.03 138.64h0M967.15 138.24h0M967.97 137.28h0M968.22 137.1h0M968.97 136.41h0M969.45 135.42h0M969.72 136.15h0M970.34 135.33h0M971.03 135.24h0M971.3 134.32h0M972.11 133.87h0M972.11 132.75h0M973.15 131.82h0M973.26 132.19h0M973.71 131.76h0M974.2 130.76h0M974.82 130.55h0M975.41 130.06h0M975.87 129.39h0M976.53 129.06h0M977.09 128.8h0M977.53 127.82h0M977.83 127.58h0M978.62 126.94h0M979.17 126.12h0M979.42 126.09h0M979.92 126.56h0M980.23 125.2h0M980.71 124.8h0M702.3 403.71h0M703.5 402.4h0M704.7 401.1h0M705.9 400.35h0M707.1 399.03h0M708.3 397.58h0M712.5 393.41h0M713.7 391.84h0M714.9 390.73h0M719.8 385.59h0M721 384.78h0M724.4 381.93h0M725.6 380.61h0M726.8 379.02h0M728 377.75h0M729.2 376.89h0M730.4 375.68h0M731.6 373.99h0M991.6 113.85h0M992.8 112.87h0M994 111.66h0M1000.7 105h0M1001.9 103.84h0M1003.1 102.45h0M1004.3 101.01h0M1005.5 99.49h0M1006.7 98.51h0M1007.9 97.82h0M1009.1 96.81h0M684.7 421.2h0M693 412.89h0M738 367.82h0M986.5 118.96h0M1029 76.4h0" stroke="#0d6fb3" stroke-width="4.6" stroke-linecap="round" fill="none"/>
<g fill="#0a6db3" stroke="#0c1b33" stroke-width="0.9"><rect x="923" y="400.44" width="5.76" height="1.26"/><rect x="928.76" y="396.66" width="5.76" height="5.04"/><rect x="934.52" y="395.4" width="5.76" height="6.3"/><rect x="940.28" y="385.32" width="5.76" height="16.38"/><rect x="946.04" y="368.93" width="5.76" height="32.77"/><rect x="951.8" y="326.09" width="5.76" height="75.61"/><rect x="957.56" y="312.22" width="5.76" height="89.48"/><rect x="963.32" y="269.37" width="5.76" height="132.33"/><rect x="969.08" y="265.59" width="5.76" height="136.11"/><rect x="974.84" y="254" width="5.76" height="147.7"/><rect x="980.6" y="279.46" width="5.76" height="122.24"/><rect x="986.36" y="308.44" width="5.76" height="93.26"/><rect x="992.12" y="322.3" width="5.76" height="79.4"/><rect x="997.88" y="363.89" width="5.76" height="37.81"/><rect x="1003.64" y="384.06" width="5.76" height="17.64"/><rect x="1009.4" y="390.36" width="5.76" height="11.34"/><rect x="1026.68" y="400.44" width="5.76" height="1.26"/><rect x="1038.2" y="400.44" width="5.76" height="1.26"/></g>
<path d="M929.12 399.18 L930.12 398.7 L931.12 398.14 L932.12 397.49 L933.12 396.75 L934.12 395.89 L935.12 394.91 L936.12 393.8 L937.12 392.53 L938.12 391.11 L939.12 389.52 L940.12 387.73 L941.12 385.75 L942.12 383.56 L943.12 381.15 L944.12 378.5 L945.12 375.62 L946.12 372.49 L947.12 369.11 L948.12 365.47 L949.12 361.59 L950.12 357.47 L951.12 353.1 L952.12 348.51 L953.12 343.72 L954.12 338.73 L955.12 333.58 L956.12 328.29 L957.12 322.89 L958.12 317.43 L959.12 311.93 L960.12 306.44 L961.12 301 L962.12 295.66 L963.12 290.47 L964.12 285.48 L965.12 280.73 L966.12 276.27 L967.12 272.15 L968.12 268.4 L969.12 265.08 L970.12 262.21 L971.12 259.83 L972.12 257.96 L973.12 256.64 L974.12 255.86 L975.12 255.64 L976.12 255.99 L977.12 256.89 L978.12 258.35 L979.12 260.33 L980.12 262.83 L981.12 265.8 L982.12 269.23 L983.12 273.06 L984.12 277.27 L985.12 281.8 L986.12 286.61 L987.12 291.65 L988.12 296.88 L989.12 302.24 L990.12 307.7 L991.12 313.19 L992.12 318.69 L993.12 324.14 L994.12 329.52 L995.12 334.78 L996.12 339.89 L997.12 344.84 L998.12 349.59 L999.12 354.13 L1000.12 358.44 L1001.12 362.51 L1002.12 366.33 L1003.12 369.91 L1004.12 373.23 L1005.12 376.3 L1006.12 379.13 L1007.12 381.72 L1008.12 384.09 L1009.12 386.23 L1010.12 388.16 L1011.12 389.9 L1012.12 391.45 L1013.12 392.84 L1014.12 394.06 L1015.12 395.15 L1016.12 396.1 L1017.12 396.93 L1018.12 397.65 L1019.12 398.28 L1020.12 398.82" fill="none" stroke="#d8342a" stroke-width="1.8"/>
<rect x="898.5" y="254.0" width="148.2" height="147.7" fill="none" stroke="#222" stroke-width="1"/>
<line x1="895.5" y1="401.7" x2="898.5" y2="401.7" stroke="#222" stroke-width="1"/>
<text x="891.2" y="406.9" font-size="14.3" text-anchor="end" font-weight="normal" fill="#111" >0</text>
<line x1="895.5" y1="338.69" x2="898.5" y2="338.69" stroke="#222" stroke-width="1"/>
<text x="888.4" y="343.89" font-size="14.3" text-anchor="end" font-weight="normal" fill="#111" >50</text>
<line x1="895.5" y1="275.68" x2="898.5" y2="275.68" stroke="#222" stroke-width="1"/>
<text x="887.3" y="280.88" font-size="14.3" text-anchor="end" font-weight="normal" fill="#111" >100</text>
<line x1="910.2" y1="401.7" x2="910.2" y2="404.7" stroke="#222" stroke-width="1"/>
<text x="908.2" y="421.7" font-size="14.3" text-anchor="middle" font-weight="normal" fill="#111" >-0.5</text>
<line x1="972" y1="401.7" x2="972" y2="404.7" stroke="#222" stroke-width="1"/>
<text x="972" y="421.7" font-size="14.3" text-anchor="middle" font-weight="normal" fill="#111" >0</text>
<line x1="1033.8" y1="401.7" x2="1033.8" y2="404.7" stroke="#222" stroke-width="1"/>
<text x="1033.8" y="421.7" font-size="14.3" text-anchor="middle" font-weight="normal" fill="#111" >0.5</text>
<text x="973.1" y="436.2" font-size="14.6" text-anchor="middle" font-weight="normal" fill="#111" >Computational error (×10<tspan dy="-5" font-size="10">-2</tspan><tspan dy="5">)</tspan></text>
<text x="976.1" y="243.5" font-size="14.4" text-anchor="middle" font-weight="normal" fill="#111" >RMSE: 0.130%</text>
<text transform="translate(857,328.1) rotate(-90)" font-size="14.3" text-anchor="middle" fill="#111">Counts</text>
<line x1="244.3" y1="576" x2="244.3" y2="966" stroke="#dcdcdc" stroke-width="1" stroke-dasharray="4 4"/>
<line x1="483.9" y1="576" x2="483.9" y2="966" stroke="#dcdcdc" stroke-width="1" stroke-dasharray="4 4"/>
<line x1="244.3" y1="552.2" x2="244.3" y2="567.5" stroke="#c4c4c4" stroke-width="1.2"/>
<line x1="483.9" y1="552.2" x2="483.9" y2="567.5" stroke="#c4c4c4" stroke-width="1.2"/>
<line x1="246" y1="559.7" x2="336" y2="559.7" stroke="#c9c9c9" stroke-width="1.8"/>
<line x1="388.5" y1="559.7" x2="482" y2="559.7" stroke="#c9c9c9" stroke-width="1.8"/>
<path d="M245.2 559.7L252 556.1L250.64 559.7L252 563.3Z" fill="#c2c2c2"/>
<path d="M483 559.7L476.2 556.1L477.56 559.7L476.2 563.3Z" fill="#c2c2c2"/>
<text x="368.2" y="564.3" font-size="12.2" text-anchor="middle" font-weight="normal" fill="#222" >460 K</text>
<line x1="244.3" y1="602.72" x2="483.9" y2="602.72" stroke="#d2d2d2" stroke-width="1" stroke-dasharray="5 5"/>
<line x1="244.3" y1="629.14" x2="483.9" y2="629.14" stroke="#d2d2d2" stroke-width="1" stroke-dasharray="5 5"/>
<line x1="244.3" y1="646.53" x2="483.9" y2="646.53" stroke="#d2d2d2" stroke-width="1" stroke-dasharray="5 5"/>
<polyline points="244.3,604.48 254.72,619.96 265.13,626.17 275.55,634.32 285.97,644.09 296.39,645.87 306.8,646.53 317.22,639.71 327.64,634.68 338.06,630.65 348.47,629.14 358.89,627.55 369.31,624.36 379.73,629.14 390.14,622.6 400.56,622.6 410.98,621.84 421.4,619.08 431.81,617.06 442.23,615.55 452.65,613.79 463.07,612.53 473.48,609.52 483.9,602.72" fill="none" stroke="#2a78b5" stroke-width="1.1"/>
<path d="M244.3 604.48h0M254.72 619.96h0M265.13 626.17h0M275.55 634.32h0M285.97 644.09h0M296.39 645.87h0M306.8 646.53h0M317.22 639.71h0M327.64 634.68h0M338.06 630.65h0M348.47 629.14h0M358.89 627.55h0M369.31 624.36h0M379.73 629.14h0M390.14 622.6h0M400.56 622.6h0M410.98 621.84h0M421.4 619.08h0M431.81 617.06h0M442.23 615.55h0M452.65 613.79h0M463.07 612.53h0M473.48 609.52h0M483.9 602.72h0" stroke="#1f6fad" stroke-width="6.3" stroke-linecap="round" fill="none"/>
<path d="M244.3 591.4H483.9V654.3H244.3Z" fill="none" stroke="#2a2a2a" stroke-width="1.3"/>
<text x="239.8" y="608.18" font-size="11.7" text-anchor="end" font-weight="normal" fill="#222" >1.0</text>
<text x="239.8" y="633.34" font-size="11.7" text-anchor="end" font-weight="normal" fill="#222" >0.0</text>
<text x="239.8" y="658.5" font-size="11.7" text-anchor="end" font-weight="normal" fill="#222" >-1.0</text>
<text x="244.3" y="669.8" font-size="11.7" text-anchor="middle" font-weight="normal" fill="#222" >100</text>
<text x="296.39" y="669.8" font-size="11.7" text-anchor="middle" font-weight="normal" fill="#222" >200</text>
<text x="348.47" y="669.8" font-size="11.7" text-anchor="middle" font-weight="normal" fill="#222" >300</text>
<text x="400.56" y="669.8" font-size="11.7" text-anchor="middle" font-weight="normal" fill="#222" >400</text>
<text x="452.65" y="669.8" font-size="11.7" text-anchor="middle" font-weight="normal" fill="#222" >500</text>
<path d="M241.5 603.98H244.3 M241.5 629.14H244.3 M241.5 654.3H244.3 M241.5 616.56H244.3 M241.5 641.72H244.3 M244.3 654.3V657.1 M296.39 654.3V657.1 M348.47 654.3V657.1 M400.56 654.3V657.1 M452.65 654.3V657.1" stroke="#2a2a2a" stroke-width="1.1" fill="none"/>
<text x="364.1" y="585.9" font-size="11.7" text-anchor="middle" font-weight="normal" fill="#222" >I<tspan font-size="7.25" dy="2.5">IN</tspan><tspan dy="-2.5"> </tspan>= 100 nA</text>
<text x="363.8" y="683.3" font-size="11.7" text-anchor="middle" font-weight="normal" fill="#222" >Temperature (K)</text>
<text transform="translate(209.4,622.85) rotate(-90)" font-size="11.4" text-anchor="middle" fill="#222">I<tspan font-size="7.25" dy="2.5">OUT</tspan><tspan dy="-2.5"> </tspan>Change (%)</text>
<text x="494" y="606.92" font-size="11.7" text-anchor="start" font-weight="normal" fill="#111" >1.05</text>
<text x="488.3" y="650.73" font-size="11.7" text-anchor="start" font-weight="normal" fill="#111" >-0.691</text>
<line x1="244.3" y1="744.86" x2="483.9" y2="744.86" stroke="#d2d2d2" stroke-width="1" stroke-dasharray="5 5"/>
<line x1="244.3" y1="782.2" x2="483.9" y2="782.2" stroke="#d2d2d2" stroke-width="1" stroke-dasharray="5 5"/>
<line x1="244.3" y1="795.53" x2="483.9" y2="795.53" stroke="#d2d2d2" stroke-width="1" stroke-dasharray="5 5"/>
<polyline points="244.3,744.86 254.72,750.2 265.13,758.07 275.55,761.88 285.97,768.23 296.39,772.04 306.8,776.36 317.22,776.36 327.64,778.39 338.06,779.91 348.47,782.2 358.89,782.96 369.31,782.2 379.73,786.01 390.14,785.5 400.56,787.79 410.98,789.06 421.4,789.82 431.81,790.58 442.23,791.6 452.65,793.63 463.07,793.88 473.48,795.15 483.9,795.53" fill="none" stroke="#2a78b5" stroke-width="1.1"/>
<path d="M244.3 744.86h0M254.72 750.2h0M265.13 758.07h0M275.55 761.88h0M285.97 768.23h0M296.39 772.04h0M306.8 776.36h0M317.22 776.36h0M327.64 778.39h0M338.06 779.91h0M348.47 782.2h0M358.89 782.96h0M369.31 782.2h0M379.73 786.01h0M390.14 785.5h0M400.56 787.79h0M410.98 789.06h0M421.4 789.82h0M431.81 790.58h0M442.23 791.6h0M452.65 793.63h0M463.07 793.88h0M473.48 795.15h0M483.9 795.53h0" stroke="#1f6fad" stroke-width="6.3" stroke-linecap="round" fill="none"/>
<path d="M244.3 731.4H483.9V807.6H244.3Z" fill="none" stroke="#2a2a2a" stroke-width="1.3"/>
<text x="239.8" y="735.6" font-size="11.7" text-anchor="end" font-weight="normal" fill="#222" >2.0</text>
<text x="239.8" y="761" font-size="11.7" text-anchor="end" font-weight="normal" fill="#222" >1.0</text>
<text x="239.8" y="786.4" font-size="11.7" text-anchor="end" font-weight="normal" fill="#222" >0.0</text>
<text x="239.8" y="811.8" font-size="11.7" text-anchor="end" font-weight="normal" fill="#222" >-1.0</text>
<text x="244.3" y="823.1" font-size="11.7" text-anchor="middle" font-weight="normal" fill="#222" >100</text>
<text x="296.39" y="823.1" font-size="11.7" text-anchor="middle" font-weight="normal" fill="#222" >200</text>
<text x="348.47" y="823.1" font-size="11.7" text-anchor="middle" font-weight="normal" fill="#222" >300</text>
<text x="400.56" y="823.1" font-size="11.7" text-anchor="middle" font-weight="normal" fill="#222" >400</text>
<text x="452.65" y="823.1" font-size="11.7" text-anchor="middle" font-weight="normal" fill="#222" >500</text>
<path d="M241.5 731.4H244.3 M241.5 756.8H244.3 M241.5 782.2H244.3 M241.5 807.6H244.3 M241.5 744.1H244.3 M241.5 769.5H244.3 M241.5 794.9H244.3 M244.3 807.6V810.4 M296.39 807.6V810.4 M348.47 807.6V810.4 M400.56 807.6V810.4 M452.65 807.6V810.4" stroke="#2a2a2a" stroke-width="1.1" fill="none"/>
<text x="364.1" y="725.9" font-size="11.7" text-anchor="middle" font-weight="normal" fill="#222" >I<tspan font-size="7.25" dy="2.5">IN</tspan><tspan dy="-2.5"> </tspan>= 1 μA</text>
<text x="363.8" y="836.6" font-size="11.7" text-anchor="middle" font-weight="normal" fill="#222" >Temperature (K)</text>
<text transform="translate(209.4,769.5) rotate(-90)" font-size="11.4" text-anchor="middle" fill="#222">I<tspan font-size="7.25" dy="2.5">OUT</tspan><tspan dy="-2.5"> </tspan>Change (%)</text>
<text x="493" y="749.06" font-size="11.7" text-anchor="start" font-weight="normal" fill="#111" >1.47</text>
<text x="488.3" y="799.74" font-size="11.7" text-anchor="start" font-weight="normal" fill="#111" >-0.525</text>
<line x1="244.3" y1="887.6" x2="483.9" y2="887.6" stroke="#d2d2d2" stroke-width="1" stroke-dasharray="5 5"/>
<line x1="244.3" y1="903.75" x2="483.9" y2="903.75" stroke="#d2d2d2" stroke-width="1" stroke-dasharray="5 5"/>
<line x1="244.3" y1="920.13" x2="483.9" y2="920.13" stroke="#d2d2d2" stroke-width="1" stroke-dasharray="5 5"/>
<polyline points="244.3,890.98 254.72,887.91 265.13,888.68 275.55,890.21 285.97,891.74 296.39,893.53 306.8,896.6 317.22,898.38 327.64,900.43 338.06,902.47 348.47,903.75 358.89,904.52 369.31,906.05 379.73,907.84 390.14,909.12 400.56,911.16 410.98,912.44 421.4,913.97 431.81,914.99 442.23,916.27 452.65,917.29 463.07,917.8 473.48,918.82 483.9,920.13" fill="none" stroke="#2a78b5" stroke-width="1.1"/>
<path d="M244.3 890.98h0M254.72 887.91h0M265.13 888.68h0M275.55 890.21h0M285.97 891.74h0M296.39 893.53h0M306.8 896.6h0M317.22 898.38h0M327.64 900.43h0M338.06 902.47h0M348.47 903.75h0M358.89 904.52h0M369.31 906.05h0M379.73 907.84h0M390.14 909.12h0M400.56 911.16h0M410.98 912.44h0M421.4 913.97h0M431.81 914.99h0M442.23 916.27h0M452.65 917.29h0M463.07 917.8h0M473.48 918.82h0M483.9 920.13h0" stroke="#1f6fad" stroke-width="6.3" stroke-linecap="round" fill="none"/>
<path d="M244.3 878.2H483.9V929.3H244.3Z" fill="none" stroke="#2a2a2a" stroke-width="1.3"/>
<text x="239.8" y="882.4" font-size="11.7" text-anchor="end" font-weight="normal" fill="#222" >1.0</text>
<text x="239.8" y="907.95" font-size="11.7" text-anchor="end" font-weight="normal" fill="#222" >0.0</text>
<text x="239.8" y="933.5" font-size="11.7" text-anchor="end" font-weight="normal" fill="#222" >-1.0</text>
<text x="244.3" y="944.8" font-size="11.7" text-anchor="middle" font-weight="normal" fill="#222" >100</text>
<text x="296.39" y="944.8" font-size="11.7" text-anchor="middle" font-weight="normal" fill="#222" >200</text>
<text x="348.47" y="944.8" font-size="11.7" text-anchor="middle" font-weight="normal" fill="#222" >300</text>
<text x="400.56" y="944.8" font-size="11.7" text-anchor="middle" font-weight="normal" fill="#222" >400</text>
<text x="452.65" y="944.8" font-size="11.7" text-anchor="middle" font-weight="normal" fill="#222" >500</text>
<path d="M241.5 878.2H244.3 M241.5 903.75H244.3 M241.5 929.3H244.3 M241.5 890.98H244.3 M241.5 916.52H244.3 M244.3 929.3V932.1 M296.39 929.3V932.1 M348.47 929.3V932.1 M400.56 929.3V932.1 M452.65 929.3V932.1" stroke="#2a2a2a" stroke-width="1.1" fill="none"/>
<text x="364.1" y="872.7" font-size="11.7" text-anchor="middle" font-weight="normal" fill="#222" >I<tspan font-size="7.25" dy="2.5">IN</tspan><tspan dy="-2.5"> </tspan>= 10 μA</text>
<text x="363.8" y="958.3" font-size="11.7" text-anchor="middle" font-weight="normal" fill="#222" >Temperature (K)</text>
<text transform="translate(209.4,903.75) rotate(-90)" font-size="11.4" text-anchor="middle" fill="#222">I<tspan font-size="7.25" dy="2.5">OUT</tspan><tspan dy="-2.5"> </tspan>Change (%)</text>
<text x="493" y="891.8" font-size="11.7" text-anchor="start" font-weight="normal" fill="#111" >0.632</text>
<text x="488.3" y="924.33" font-size="11.7" text-anchor="start" font-weight="normal" fill="#111" >-0.641</text>
<line x1="812.8" y1="581" x2="812.8" y2="966" stroke="#dcdcdc" stroke-width="1" stroke-dasharray="4 4"/>
<line x1="1039.1" y1="581" x2="1039.1" y2="966" stroke="#dcdcdc" stroke-width="1" stroke-dasharray="4 4"/>
<line x1="812.8" y1="558.4" x2="812.8" y2="573.4" stroke="#c4c4c4" stroke-width="1.2"/>
<line x1="1039.1" y1="558.4" x2="1039.1" y2="573.4" stroke="#c4c4c4" stroke-width="1.2"/>
<line x1="814.5" y1="566.2" x2="902" y2="566.2" stroke="#c9c9c9" stroke-width="1.8"/>
<line x1="946" y1="566.2" x2="1037.5" y2="566.2" stroke="#c9c9c9" stroke-width="1.8"/>
<path d="M813.7 566.2L820.5 562.6L819.14 566.2L820.5 569.8Z" fill="#c2c2c2"/>
<path d="M1038.2 566.2L1031.4 562.6L1032.76 566.2L1031.4 569.8Z" fill="#c2c2c2"/>
<text x="922.9" y="570.8" font-size="12.2" text-anchor="middle" font-weight="normal" fill="#222" >10 T</text>
<line x1="812.8" y1="619.82" x2="1039.1" y2="619.82" stroke="#d2d2d2" stroke-width="1" stroke-dasharray="5 5"/>
<line x1="812.8" y1="632.03" x2="1039.1" y2="632.03" stroke="#d2d2d2" stroke-width="1" stroke-dasharray="5 5"/>
<polyline points="812.8,632.03 835.43,629.06 858.06,622.25 880.69,627.67 903.32,620.16 925.95,623.47 948.58,624 971.21,625.75 993.84,631.16 1016.47,632.56 1039.1,628.19" fill="none" stroke="#2a78b5" stroke-width="1.1"/>
<path d="M812.8 632.03h0M835.43 629.06h0M858.06 622.25h0M880.69 627.67h0M903.32 620.16h0M925.95 623.47h0M948.58 624h0M971.21 625.75h0M993.84 631.16h0M1016.47 632.56h0M1039.1 628.19h0" stroke="#1f6fad" stroke-width="6.3" stroke-linecap="round" fill="none"/>
<path d="M812.8 597.1H1039.1V649.5H812.8Z" fill="none" stroke="#2a2a2a" stroke-width="1.3"/>
<text x="805.3" y="601.3" font-size="11.7" text-anchor="end" font-weight="normal" fill="#222" >0.2</text>
<text x="805.3" y="618.77" font-size="11.7" text-anchor="end" font-weight="normal" fill="#222" >0.1</text>
<text x="805.3" y="636.23" font-size="11.7" text-anchor="end" font-weight="normal" fill="#222" >0.0</text>
<text x="805.3" y="653.7" font-size="11.7" text-anchor="end" font-weight="normal" fill="#222" >-0.1</text>
<text x="812.8" y="665" font-size="11.7" text-anchor="middle" font-weight="normal" fill="#222" >0</text>
<text x="858.06" y="665" font-size="11.7" text-anchor="middle" font-weight="normal" fill="#222" >2</text>
<text x="903.32" y="665" font-size="11.7" text-anchor="middle" font-weight="normal" fill="#222" >4</text>
<text x="948.58" y="665" font-size="11.7" text-anchor="middle" font-weight="normal" fill="#222" >6</text>
<text x="993.84" y="665" font-size="11.7" text-anchor="middle" font-weight="normal" fill="#222" >8</text>
<text x="1039.1" y="665" font-size="11.7" text-anchor="middle" font-weight="normal" fill="#222" >10</text>
<path d="M810 597.1H812.8 M810 614.57H812.8 M810 632.03H812.8 M810 649.5H812.8 M812.8 649.5V652.3 M858.06 649.5V652.3 M903.32 649.5V652.3 M948.58 649.5V652.3 M993.84 649.5V652.3 M1039.1 649.5V652.3" stroke="#2a2a2a" stroke-width="1.1" fill="none"/>
<text x="925.95" y="591.6" font-size="11.7" text-anchor="middle" font-weight="normal" fill="#222" >I<tspan font-size="7.25" dy="2.5">IN</tspan><tspan dy="-2.5"> </tspan>= 100 nA</text>
<text x="925.6" y="678.5" font-size="11.7" text-anchor="middle" font-weight="normal" fill="#222" >Magnetic field (T)</text>
<text transform="translate(777.6,623.3) rotate(-90)" font-size="11.4" text-anchor="middle" fill="#222">I<tspan font-size="7.25" dy="2.5">OUT</tspan><tspan dy="-2.5"> </tspan>Changes (%)</text>
<text x="1044.4" y="621.4" font-size="11.7" text-anchor="start" font-weight="normal" fill="#111" >0.0699</text>
<line x1="812.8" y1="740.2" x2="1039.1" y2="740.2" stroke="#d2d2d2" stroke-width="1" stroke-dasharray="5 5"/>
<line x1="812.8" y1="776.73" x2="1039.1" y2="776.73" stroke="#d2d2d2" stroke-width="1" stroke-dasharray="5 5"/>
<polyline points="812.8,776.73 835.43,775.85 858.06,773.23 880.69,765.19 903.32,763.62 925.95,760.65 948.58,755.06 971.21,751.04 993.84,749.46 1016.47,744.22 1039.1,740.2" fill="none" stroke="#2a78b5" stroke-width="1.1"/>
<path d="M812.8 776.73h0M835.43 775.85h0M858.06 773.23h0M880.69 765.19h0M903.32 763.62h0M925.95 760.65h0M948.58 755.06h0M971.21 751.04h0M993.84 749.46h0M1016.47 744.22h0M1039.1 740.2h0" stroke="#1f6fad" stroke-width="6.3" stroke-linecap="round" fill="none"/>
<path d="M812.8 724.3H1039.1V794.2H812.8Z" fill="none" stroke="#2a2a2a" stroke-width="1.3"/>
<text x="805.3" y="728.5" font-size="11.7" text-anchor="end" font-weight="normal" fill="#222" >0.3</text>
<text x="805.3" y="745.98" font-size="11.7" text-anchor="end" font-weight="normal" fill="#222" >0.2</text>
<text x="805.3" y="763.45" font-size="11.7" text-anchor="end" font-weight="normal" fill="#222" >0.1</text>
<text x="805.3" y="780.93" font-size="11.7" text-anchor="end" font-weight="normal" fill="#222" >0.0</text>
<text x="805.3" y="798.4" font-size="11.7" text-anchor="end" font-weight="normal" fill="#222" >-0.1</text>
<text x="812.8" y="809.7" font-size="11.7" text-anchor="middle" font-weight="normal" fill="#222" >0</text>
<text x="858.06" y="809.7" font-size="11.7" text-anchor="middle" font-weight="normal" fill="#222" >2</text>
<text x="903.32" y="809.7" font-size="11.7" text-anchor="middle" font-weight="normal" fill="#222" >4</text>
<text x="948.58" y="809.7" font-size="11.7" text-anchor="middle" font-weight="normal" fill="#222" >6</text>
<text x="993.84" y="809.7" font-size="11.7" text-anchor="middle" font-weight="normal" fill="#222" >8</text>
<text x="1039.1" y="809.7" font-size="11.7" text-anchor="middle" font-weight="normal" fill="#222" >10</text>
<path d="M810 724.3H812.8 M810 741.77H812.8 M810 759.25H812.8 M810 776.73H812.8 M810 794.2H812.8 M812.8 794.2V797 M858.06 794.2V797 M903.32 794.2V797 M948.58 794.2V797 M993.84 794.2V797 M1039.1 794.2V797" stroke="#2a2a2a" stroke-width="1.1" fill="none"/>
<text x="925.95" y="718.8" font-size="11.7" text-anchor="middle" font-weight="normal" fill="#222" >I<tspan font-size="7.25" dy="2.5">IN</tspan><tspan dy="-2.5"> </tspan>= 1 μA</text>
<text x="925.6" y="823.2" font-size="11.7" text-anchor="middle" font-weight="normal" fill="#222" >Magnetic field (T)</text>
<text transform="translate(777.6,759.25) rotate(-90)" font-size="11.4" text-anchor="middle" fill="#222">I<tspan font-size="7.25" dy="2.5">OUT</tspan><tspan dy="-2.5"> </tspan>Changes (%)</text>
<text x="1047" y="744.4" font-size="11.7" text-anchor="start" font-weight="normal" fill="#111" >0.209</text>
<line x1="812.8" y1="884.07" x2="1039.1" y2="884.07" stroke="#d2d2d2" stroke-width="1" stroke-dasharray="5 5"/>
<line x1="812.8" y1="909.8" x2="1039.1" y2="909.8" stroke="#d2d2d2" stroke-width="1" stroke-dasharray="5 5"/>
<polyline points="812.8,909.8 835.43,906.47 858.06,903.85 880.69,899.47 903.32,897.9 925.95,895.8 948.58,892.65 971.21,890.55 993.84,888.1 1016.47,885.82 1039.1,884.07" fill="none" stroke="#2a78b5" stroke-width="1.1"/>
<path d="M812.8 909.8h0M835.43 906.47h0M858.06 903.85h0M880.69 899.47h0M903.32 897.9h0M925.95 895.8h0M948.58 892.65h0M971.21 890.55h0M993.84 888.1h0M1016.47 885.82h0M1039.1 884.07h0" stroke="#1f6fad" stroke-width="6.3" stroke-linecap="round" fill="none"/>
<path d="M812.8 874.8H1039.1V927.3H812.8Z" fill="none" stroke="#2a2a2a" stroke-width="1.3"/>
<text x="805.3" y="879" font-size="11.7" text-anchor="end" font-weight="normal" fill="#222" >0.2</text>
<text x="805.3" y="896.5" font-size="11.7" text-anchor="end" font-weight="normal" fill="#222" >0.1</text>
<text x="805.3" y="914" font-size="11.7" text-anchor="end" font-weight="normal" fill="#222" >0.0</text>
<text x="805.3" y="931.5" font-size="11.7" text-anchor="end" font-weight="normal" fill="#222" >-0.1</text>
<text x="812.8" y="942.8" font-size="11.7" text-anchor="middle" font-weight="normal" fill="#222" >0</text>
<text x="858.06" y="942.8" font-size="11.7" text-anchor="middle" font-weight="normal" fill="#222" >2</text>
<text x="903.32" y="942.8" font-size="11.7" text-anchor="middle" font-weight="normal" fill="#222" >4</text>
<text x="948.58" y="942.8" font-size="11.7" text-anchor="middle" font-weight="normal" fill="#222" >6</text>
<text x="993.84" y="942.8" font-size="11.7" text-anchor="middle" font-weight="normal" fill="#222" >8</text>
<text x="1039.1" y="942.8" font-size="11.7" text-anchor="middle" font-weight="normal" fill="#222" >10</text>
<path d="M810 874.8H812.8 M810 892.3H812.8 M810 909.8H812.8 M810 927.3H812.8 M812.8 927.3V930.1 M858.06 927.3V930.1 M903.32 927.3V930.1 M948.58 927.3V930.1 M993.84 927.3V930.1 M1039.1 927.3V930.1" stroke="#2a2a2a" stroke-width="1.1" fill="none"/>
<text x="925.95" y="869.3" font-size="11.7" text-anchor="middle" font-weight="normal" fill="#222" >I<tspan font-size="7.25" dy="2.5">IN</tspan><tspan dy="-2.5"> </tspan>= 10 μA</text>
<text x="925.6" y="956.3" font-size="11.7" text-anchor="middle" font-weight="normal" fill="#222" >Magnetic field (T)</text>
<text transform="translate(777.6,901.05) rotate(-90)" font-size="11.4" text-anchor="middle" fill="#222">I<tspan font-size="7.25" dy="2.5">OUT</tspan><tspan dy="-2.5"> </tspan>Changes (%)</text>
<text x="1047" y="888.27" font-size="11.7" text-anchor="start" font-weight="normal" fill="#111" >0.147</text>
<line x1="486" y1="629.3" x2="503" y2="629.3" stroke="#d2d2d2" stroke-width="1" stroke-dasharray="5 5"/>
<line x1="502.3" y1="623.7" x2="502.3" y2="615.2" stroke="#c4c4c4" stroke-width="0.9"/>
<path d="M502.3 613.2L500.7 616.8L503.9 616.8Z" fill="#c0c0c0"/>
<line x1="502.3" y1="631.5" x2="502.3" y2="637.5" stroke="#c4c4c4" stroke-width="0.9"/>
<path d="M502.3 639.5L500.7 635.9L503.9 635.9Z" fill="#c0c0c0"/>
<line x1="486" y1="782" x2="503" y2="782" stroke="#d2d2d2" stroke-width="1" stroke-dasharray="5 5"/>
<line x1="500.6" y1="778.2" x2="500.6" y2="756.5" stroke="#c4c4c4" stroke-width="0.9"/>
<path d="M500.6 754.5L499 758.1L502.2 758.1Z" fill="#c0c0c0"/>
<line x1="500.6" y1="782.3" x2="500.6" y2="788.6" stroke="#c4c4c4" stroke-width="0.9"/>
<path d="M500.6 790.6L499 787L502.2 787Z" fill="#c0c0c0"/>
<line x1="486" y1="903.8" x2="505" y2="903.8" stroke="#d2d2d2" stroke-width="1" stroke-dasharray="5 5"/>
<line x1="503" y1="900.6" x2="503" y2="895.4" stroke="#c4c4c4" stroke-width="0.9"/>
<path d="M503 893.4L501.4 897L504.6 897Z" fill="#c0c0c0"/>
<line x1="503" y1="904" x2="503" y2="911" stroke="#c4c4c4" stroke-width="0.9"/>
<path d="M503 913L501.4 909.4L504.6 909.4Z" fill="#c0c0c0"/>
<line x1="1041" y1="632.3" x2="1056" y2="632.3" stroke="#d2d2d2" stroke-width="1" stroke-dasharray="5 5"/>
<line x1="1053.3" y1="632" x2="1053.3" y2="625" stroke="#c4c4c4" stroke-width="0.9"/>
<path d="M1053.3 623L1051.7 626.6L1054.9 626.6Z" fill="#c0c0c0"/>
<line x1="1041" y1="776.7" x2="1056" y2="776.7" stroke="#d2d2d2" stroke-width="1" stroke-dasharray="5 5"/>
<line x1="1054.8" y1="769.6" x2="1054.8" y2="750.9" stroke="#c4c4c4" stroke-width="0.9"/>
<path d="M1054.8 748.9L1053.2 752.5L1056.4 752.5Z" fill="#c0c0c0"/>
<line x1="1041" y1="909.8" x2="1056" y2="909.8" stroke="#d2d2d2" stroke-width="1" stroke-dasharray="5 5"/>
<line x1="1054.8" y1="910" x2="1054.8" y2="896" stroke="#c4c4c4" stroke-width="0.9"/>
<path d="M1054.8 894L1053.2 897.6L1056.4 897.6Z" fill="#c0c0c0"/>
<text x="1.2" y="591.2" font-size="17.5" text-anchor="start" font-weight="bold" fill="#111" >C</text>
<text x="175" y="590" font-size="17.5" text-anchor="start" font-weight="bold" fill="#111" >D</text>
<text x="175" y="728" font-size="17.5" text-anchor="start" font-weight="bold" fill="#111" >E</text>
<text x="175" y="874" font-size="17.5" text-anchor="start" font-weight="bold" fill="#111" >F</text>
<text x="555.3" y="590.9" font-size="17.5" text-anchor="start" font-weight="bold" fill="#111" >G</text>
<text x="739.8" y="590" font-size="17.5" text-anchor="start" font-weight="bold" fill="#111" >H</text>
<text x="740" y="727.5" font-size="17.5" text-anchor="start" font-weight="bold" fill="#111" >I</text>
<text x="739.8" y="874" font-size="17.5" text-anchor="start" font-weight="bold" fill="#111" >J</text>
<path d="M28.75 634.9L89.2 605.2L118.55 610.2L58.1 639.9Z" fill="#f1f1f1"/>
<path d="M28.75 634.9L58.1 639.9L58.1 672.8L28.75 667.8Z" fill="#eeeeee"/>
<path d="M58.1 639.9L118.55 610.2L118.55 643.1L58.1 672.8Z" fill="#efefef"/>
<path d="M89.2 605.2L89.2 638.1M28.75 667.8L89.2 638.1L118.55 643.1" stroke="#c9c9c9" stroke-width="0.8" fill="none"/>
<path d="M28.75 667.8L28.75 634.9L89.2 605.2L118.55 610.2L118.55 643.1L58.1 672.8L28.75 667.8M28.75 634.9L58.1 639.9L118.55 610.2M58.1 639.9L58.1 672.8" stroke="#2a78b8" stroke-width="1.42" fill="none" stroke-linejoin="round"/>
<g transform="matrix(0.735,-0.364,0.05,1,89,638.4)" font-style="italic" font-size="12.8" fill="#111" stroke="#111" stroke-width="0.25" text-anchor="middle"><text x="0" y="0">Master-slave</text><text x="-1.5" y="15.4">cell</text></g>
<circle cx="13.45" cy="694.3" r="12.1" fill="#fff" stroke="#2a78b8" stroke-width="1.42"/>
<path d="M13.45 701.7V691.3" stroke="#2a78b8" stroke-width="1.42"/>
<path d="M13.45 687.9L10.75 693.7L16.15 693.7Z" fill="#2a78b8"/>
<path d="M13.45 682.2V667.8L44.3 653" stroke="#2a78b8" stroke-width="1.42" fill="none" stroke-linejoin="round"/>
<path d="M44.3 653L40.38 657.54L41.08 654.55L38.3 653.22Z" fill="#2a78b8"/>
<path d="M13.45 706.4V720.7" stroke="#2a78b8" stroke-width="1.42"/>
<path d="M5.25 720.7H21.65M8.85 723.7H18.05M11.65 726.7H15.25" stroke="#2a78b8" stroke-width="1.42" fill="none"/>
<path d="M118.7 618.9L137.5 609.8V630.8M137.5 655.8V668.3M137.5 693.3V704.9" stroke="#2a78b8" stroke-width="1.42" fill="none" stroke-linejoin="round"/>
<path d="M129.6 613.65L125.69 618.2L126.38 615.2L123.6 613.87Z" fill="#2a78b8"/>
<circle cx="137.5" cy="643.3" r="12.5" fill="#fff" stroke="#2a78b8" stroke-width="1.42"/>
<circle cx="137.5" cy="680.8" r="12.5" fill="#fff" stroke="#2a78b8" stroke-width="1.42"/>
<text x="137.5" y="648.3" font-size="14" text-anchor="middle" font-weight="normal" fill="#2a78b8" >A</text>
<path d="M134.2 677.5H140.8M137.5 674.2V680.8M135.9 687H139.1" stroke="#2a78b8" stroke-width="1.2" fill="none"/>
<path d="M129.3 704.9H145.7M132.9 707.9H142.1M135.7 710.9H139.3" stroke="#2a78b8" stroke-width="1.42" fill="none"/>
<text x="9.2" y="654.4" font-size="12.8" fill="#333">I<tspan font-size="8.6" dy="2.4">IN</tspan></text>
<text x="121.6" y="604.1" font-size="12.8" fill="#333">I<tspan font-size="8.6" dy="2.4">OUT</tspan></text>
<g transform="translate(84.2,705.6) scale(0.67)">
<path d="M-9.4 -45.0 A9.4 9.4 0 0 1 9.4 -45.0 V-14.9 A17.7 17.7 0 1 1 -9.4 -14.9 Z" fill="#fff" stroke="#222" stroke-width="1.15"/>
<path d="M-4.6 -42.2 A4.6 4.6 0 0 1 4.6 -42.2 V-11.5 A12.5 12.5 0 1 1 -4.6 -11.5 Z" fill="#fff" stroke="#1e1e1e" stroke-width="1.9"/>
<path d="M-3.7 -15.2 H3.7 V-11.9 A11.6 11.6 0 1 1 -3.7 -11.9 Z" fill="#8cc0e8"/>
<path d="M0.2 -36.5H3.8 M1.5 -33.4H3.8 M0.2 -30.3H3.8 M1.5 -27.2H3.8 M0.2 -24.1H3.8 M1.5 -21H3.8 M0.2 -17.9H3.8 M1.5 -14.8H3.8" stroke="#1e1e1e" stroke-width="0.95" fill="none"/>
</g>
<text x="83.6" y="730.2" font-size="13.4" text-anchor="middle" font-weight="normal" fill="#222" >100 K</text>
<path d="M80.8 754.5H86.8V769.2H92L83.8 784L75.6 769.2H80.8Z" fill="#d7d7d7"/>
<path d="M28.75 833.9L89.2 804.2L118.55 809.2L58.1 838.9Z" fill="#f1f1f1"/>
<path d="M28.75 833.9L58.1 838.9L58.1 871.8L28.75 866.8Z" fill="#eeeeee"/>
<path d="M58.1 838.9L118.55 809.2L118.55 842.1L58.1 871.8Z" fill="#efefef"/>
<path d="M89.2 804.2L89.2 837.1M28.75 866.8L89.2 837.1L118.55 842.1" stroke="#c9c9c9" stroke-width="0.8" fill="none"/>
<path d="M28.75 866.8L28.75 833.9L89.2 804.2L118.55 809.2L118.55 842.1L58.1 871.8L28.75 866.8M28.75 833.9L58.1 838.9L118.55 809.2M58.1 838.9L58.1 871.8" stroke="#2a78b8" stroke-width="1.42" fill="none" stroke-linejoin="round"/>
<g transform="matrix(0.735,-0.364,0.05,1,89,837.4)" font-style="italic" font-size="12.8" fill="#111" stroke="#111" stroke-width="0.25" text-anchor="middle"><text x="0" y="0">Master-slave</text><text x="-1.5" y="15.4">cell</text></g>
<circle cx="13.45" cy="893.3" r="12.1" fill="#fff" stroke="#2a78b8" stroke-width="1.42"/>
<path d="M13.45 900.7V890.3" stroke="#2a78b8" stroke-width="1.42"/>
<path d="M13.45 886.9L10.75 892.7L16.15 892.7Z" fill="#2a78b8"/>
<path d="M13.45 881.2V866.8L44.3 852" stroke="#2a78b8" stroke-width="1.42" fill="none" stroke-linejoin="round"/>
<path d="M44.3 852L40.38 856.54L41.08 853.55L38.3 852.22Z" fill="#2a78b8"/>
<path d="M13.45 905.4V919.7" stroke="#2a78b8" stroke-width="1.42"/>
<path d="M5.25 919.7H21.65M8.85 922.7H18.05M11.65 925.7H15.25" stroke="#2a78b8" stroke-width="1.42" fill="none"/>
<path d="M118.7 817.9L137.5 808.8V829.8M137.5 854.8V867.3M137.5 892.3V903.9" stroke="#2a78b8" stroke-width="1.42" fill="none" stroke-linejoin="round"/>
<path d="M129.6 812.65L125.69 817.2L126.38 814.2L123.6 812.87Z" fill="#2a78b8"/>
<circle cx="137.5" cy="842.3" r="12.5" fill="#fff" stroke="#2a78b8" stroke-width="1.42"/>
<circle cx="137.5" cy="879.8" r="12.5" fill="#fff" stroke="#2a78b8" stroke-width="1.42"/>
<text x="137.5" y="847.3" font-size="14" text-anchor="middle" font-weight="normal" fill="#2a78b8" >A</text>
<path d="M134.2 876.5H140.8M137.5 873.2V879.8M135.9 886H139.1" stroke="#2a78b8" stroke-width="1.2" fill="none"/>
<path d="M129.3 903.9H145.7M132.9 906.9H142.1M135.7 909.9H139.3" stroke="#2a78b8" stroke-width="1.42" fill="none"/>
<text x="9.2" y="853.4" font-size="12.8" fill="#333">I<tspan font-size="8.6" dy="2.4">IN</tspan></text>
<text x="126.9" y="803.1" font-size="12.8" fill="#333">I<tspan font-size="8.6" dy="2.4">OUT</tspan></text>
<g transform="translate(84.2,904.6) scale(0.67)">
<path d="M-9.4 -45.0 A9.4 9.4 0 0 1 9.4 -45.0 V-14.9 A17.7 17.7 0 1 1 -9.4 -14.9 Z" fill="#fff" stroke="#222" stroke-width="1.15"/>
<path d="M-4.6 -42.2 A4.6 4.6 0 0 1 4.6 -42.2 V-11.5 A12.5 12.5 0 1 1 -4.6 -11.5 Z" fill="#fff" stroke="#1e1e1e" stroke-width="1.9"/>
<path d="M-3.7 -41.8 H3.7 V-11.9 A11.6 11.6 0 1 1 -3.7 -11.9 Z" fill="#e6939a"/>
<path d="M0.2 -36.5H3.8 M1.5 -33.4H3.8 M0.2 -30.3H3.8 M1.5 -27.2H3.8 M0.2 -24.1H3.8 M1.5 -21H3.8 M0.2 -17.9H3.8 M1.5 -14.8H3.8" stroke="#1e1e1e" stroke-width="0.95" fill="none"/>
</g>
<text x="83.6" y="929.2" font-size="13.4" text-anchor="middle" font-weight="normal" fill="#222" >560 K</text>
<defs><linearGradient id="g688" x1="0" y1="0" x2="0" y2="1"><stop offset="0" stop-color="#58b4e0"/><stop offset="0.4" stop-color="#9fd6ee"/><stop offset="1" stop-color="#ffffff" stop-opacity="0"/></linearGradient></defs>
<path d="M614.3 709.3L633.3 712.8L648.2 705.8V721.1L633.3 728.1H614.3Z" fill="url(#g688)"/>
<path d="M614.3 688.9L633.3 692.4L633.3 712.8L614.3 709.3Z" fill="#da7d8a"/>
<path d="M633.3 692.4L648.2 685.4L648.2 705.8L633.3 712.8Z" fill="#d77886"/>
<path d="M614.3 688.9L629.2 681.9L648.2 685.4L633.3 692.4Z" fill="#de8893"/>
<path d="M614.3 709.3L614.3 688.9L629.2 681.9L648.2 685.4L648.2 705.8L633.3 712.8L614.3 709.3M614.3 688.9L633.3 692.4L648.2 685.4M633.3 692.4L633.3 712.8" stroke="#3a2226" stroke-width="1.25" fill="none" stroke-linejoin="round"/>
<text x="624" y="703.6" font-size="13.5" text-anchor="middle" font-weight="normal" fill="#fff" >N</text>
<path d="M585.9 633.7L646.2 604.7L674.6 609.4L614.3 638.4Z" fill="#f1f1f1"/>
<path d="M585.9 633.7L614.3 638.4L614.3 670.9L585.9 666.2Z" fill="#eeeeee"/>
<path d="M614.3 638.4L674.6 609.4L674.6 641.9L614.3 670.9Z" fill="#efefef"/>
<path d="M646.2 604.7L646.2 637.2M585.9 666.2L646.2 637.2L674.6 641.9" stroke="#c9c9c9" stroke-width="0.8" fill="none"/>
<path d="M619.4 686L617.2 630C616.4 613 609 600 598.1 591.9 M631.5 683L631.5 620C631.5 605 631.5 595 631.5 587 M641.8 685L647.5 622C649.5 608 653 599 660 591.1" stroke="#2a78b8" stroke-width="1.4" fill="none"/>
<path d="M604.2 597.34L612.21 600.66L607.56 601.14L606.52 605.7Z" fill="#2a78b8"/>
<path d="M631.5 592.06L635.3 599.86L631.5 597.13L627.7 599.86Z" fill="#2a78b8"/>
<path d="M656.2 596L655.21 604.62L653.48 600.28L648.8 600.53Z" fill="#2a78b8"/>
<path d="M614.3 638.4L674.6 609.4L674.6 641.9L614.3 670.9Z" fill="#efefef" fill-opacity="0.7"/>
<path d="M585.9 666.2L585.9 633.7L646.2 604.7L674.6 609.4L674.6 641.9L614.3 670.9L585.9 666.2M585.9 633.7L614.3 638.4L674.6 609.4M614.3 638.4L614.3 670.9" stroke="#2a78b8" stroke-width="1.42" fill="none" stroke-linejoin="round"/>
<g transform="matrix(0.735,-0.364,0.05,1,645.8,637.2)" font-style="italic" font-size="12.8" fill="#111" stroke="#111" stroke-width="0.25" text-anchor="middle"><text x="0" y="0">Master-slave</text><text x="-1.5" y="15.4">cell</text></g>
<circle cx="568.7" cy="693.7" r="12.5" fill="#fff" stroke="#2a78b8" stroke-width="1.42"/>
<path d="M568.7 701.1V690.7" stroke="#2a78b8" stroke-width="1.42"/>
<path d="M568.7 687.3L566 693.1L571.4 693.1Z" fill="#2a78b8"/>
<path d="M568.7 681.2V667.6L598.8 652.3" stroke="#2a78b8" stroke-width="1.42" fill="none" stroke-linejoin="round"/>
<path d="M598.8 652.3L594.98 656.93L595.61 653.92L592.81 652.65Z" fill="#2a78b8"/>
<path d="M568.7 706.2V720.3" stroke="#2a78b8" stroke-width="1.42"/>
<path d="M560.5 720.3H576.9M564.1 723.3H573.3M566.9 726.3H570.5" stroke="#2a78b8" stroke-width="1.42" fill="none"/>
<path d="M674.2 617.2L695.7 606.7V627.3M695.7 652.3V664.5M695.7 689.5V703.8" stroke="#2a78b8" stroke-width="1.42" fill="none" stroke-linejoin="round"/>
<path d="M686.45 611.25L682.55 615.81L683.23 612.81L680.45 611.49Z" fill="#2a78b8"/>
<circle cx="695.7" cy="639.8" r="12.5" fill="#fff" stroke="#2a78b8" stroke-width="1.42"/>
<circle cx="695.7" cy="677" r="12.5" fill="#fff" stroke="#2a78b8" stroke-width="1.42"/>
<text x="695.7" y="644.8" font-size="14" text-anchor="middle" font-weight="normal" fill="#2a78b8" >A</text>
<path d="M692.4 673.7H699M695.7 670.4V677M694.1 683.2H697.3" stroke="#2a78b8" stroke-width="1.2" fill="none"/>
<path d="M687.5 703.8H703.9M691.1 706.8H700.3M693.9 709.8H697.5" stroke="#2a78b8" stroke-width="1.42" fill="none"/>
<text x="566" y="654" font-size="12.8" fill="#333">I<tspan font-size="8.6" dy="2.4">IN</tspan></text>
<text x="677.6" y="599.6" font-size="12.8" fill="#333">I<tspan font-size="8.6" dy="2.4">OUT</tspan></text>
<path d="M627.3 739.8H633.3V754.3H638.5L630.3 768.4L622.1 754.3H627.3Z" fill="#d7d7d7"/>
<defs><linearGradient id="g895" x1="0" y1="0" x2="0" y2="1"><stop offset="0" stop-color="#58b4e0"/><stop offset="0.4" stop-color="#9fd6ee"/><stop offset="1" stop-color="#ffffff" stop-opacity="0"/></linearGradient></defs>
<path d="M613.3 927.9L643 933.2L664.8 923.6V947.9L643 957.5H613.3Z" fill="url(#g895)"/>
<path d="M613.3 895.5L643 900.8L643 933.2L613.3 927.9Z" fill="#da7d8a"/>
<path d="M643 900.8L664.8 891.2L664.8 923.6L643 933.2Z" fill="#d77886"/>
<path d="M613.3 895.5L635.1 885.9L664.8 891.2L643 900.8Z" fill="#de8893"/>
<path d="M613.3 927.9L613.3 895.5L635.1 885.9L664.8 891.2L664.8 923.6L643 933.2L613.3 927.9M613.3 895.5L643 900.8L664.8 891.2M643 900.8L643 933.2" stroke="#3a2226" stroke-width="1.25" fill="none" stroke-linejoin="round"/>
<text x="627.2" y="914" font-size="15" text-anchor="middle" font-weight="normal" fill="#fff" >N</text>
<path d="M594 839.5L654.4 810.6L683.3 815.5L622.9 844.4Z" fill="#f1f1f1"/>
<path d="M594 839.5L622.9 844.4L622.9 876.8L594 871.9Z" fill="#eeeeee"/>
<path d="M622.9 844.4L683.3 815.5L683.3 847.9L622.9 876.8Z" fill="#efefef"/>
<path d="M654.4 810.6L654.4 843M594 871.9L654.4 843L683.3 847.9" stroke="#c9c9c9" stroke-width="0.8" fill="none"/>
<path d="M621.1 893.5L621.1 850C621.1 828 604.84 806.9 594 794.9 M627.3 893.5L627.3 850C627.3 828 616.26 801.6 608.9 789.6 M633.4 893.5L633.4 850C633.4 828 628.66 798.1 625.5 786.1 M639.5 893.5L639.5 850C639.5 828 640.04 796.4 640.4 784.4 M646.5 893.5L646.5 850C646.5 828 651.78 798.1 655.3 786.1 M652.6 893.5L652.6 850C652.6 828 663.64 801.6 671 789.6 M657.9 893.5L657.9 850C657.9 828 673.98 806.9 684.7 794.9" stroke="#2a78b8" stroke-width="1.4" fill="none"/>
<path d="M600.98 803.13L608.76 806.97L604.08 807.14L602.75 811.62Z" fill="#2a78b8"/>
<path d="M613.64 798.38L620.39 803.82L615.79 802.97L613.51 807.05Z" fill="#2a78b8"/>
<path d="M627.54 795.24L632.71 802.2L628.47 800.22L625.24 803.61Z" fill="#2a78b8"/>
<path d="M640.17 793.72L643.81 801.6L640.06 798.79L636.21 801.44Z" fill="#2a78b8"/>
<path d="M653.03 795.24L655.15 803.66L651.99 800.2L647.71 802.1Z" fill="#2a78b8"/>
<path d="M666.26 798.38L666.39 807.05L664.11 802.97L659.51 803.82Z" fill="#2a78b8"/>
<path d="M677.8 803.13L676.08 811.63L674.72 807.15L670.04 807.01Z" fill="#2a78b8"/>
<path d="M622.9 844.4L683.3 815.5L683.3 847.9L622.9 876.8Z" fill="#efefef" fill-opacity="0.7"/>
<path d="M594 871.9L594 839.5L654.4 810.6L683.3 815.5L683.3 847.9L622.9 876.8L594 871.9M594 839.5L622.9 844.4L683.3 815.5M622.9 844.4L622.9 876.8" stroke="#2a78b8" stroke-width="1.42" fill="none" stroke-linejoin="round"/>
<g transform="matrix(0.735,-0.364,0.05,1,654,843)" font-style="italic" font-size="12.8" fill="#111" stroke="#111" stroke-width="0.25" text-anchor="middle"><text x="0" y="0">Master-slave</text><text x="-1.5" y="15.4">cell</text></g>
<circle cx="568.7" cy="904.8" r="12.5" fill="#fff" stroke="#2a78b8" stroke-width="1.42"/>
<path d="M568.7 912.2V901.8" stroke="#2a78b8" stroke-width="1.42"/>
<path d="M568.7 898.4L566 904.2L571.4 904.2Z" fill="#2a78b8"/>
<path d="M568.7 892.3V878.8L609 859.4" stroke="#2a78b8" stroke-width="1.42" fill="none" stroke-linejoin="round"/>
<path d="M609 859.4L605.09 863.95L605.78 860.95L603 859.62Z" fill="#2a78b8"/>
<path d="M568.7 917.3V931.5" stroke="#2a78b8" stroke-width="1.42"/>
<path d="M560.5 931.5H576.9M564.1 934.5H573.3M566.9 937.5H570.5" stroke="#2a78b8" stroke-width="1.42" fill="none"/>
<path d="M683.3 823.5L705.1 814.7V834.9M705.1 859.9V870.8M705.1 895.8V910.4" stroke="#2a78b8" stroke-width="1.42" fill="none" stroke-linejoin="round"/>
<path d="M695.7 818.4L691.53 822.71L692.39 819.76L689.7 818.27Z" fill="#2a78b8"/>
<circle cx="705.1" cy="847.4" r="12.5" fill="#fff" stroke="#2a78b8" stroke-width="1.42"/>
<circle cx="705.1" cy="883.3" r="12.5" fill="#fff" stroke="#2a78b8" stroke-width="1.42"/>
<text x="705.1" y="852.4" font-size="14" text-anchor="middle" font-weight="normal" fill="#2a78b8" >A</text>
<path d="M701.8 880H708.4M705.1 876.7V883.3M703.5 889.5H706.7" stroke="#2a78b8" stroke-width="1.2" fill="none"/>
<path d="M696.9 910.4H713.3M700.5 913.4H709.7M703.3 916.4H706.9" stroke="#2a78b8" stroke-width="1.42" fill="none"/>
<text x="569.9" y="863.4" font-size="12.8" fill="#333">I<tspan font-size="8.6" dy="2.4">IN</tspan></text>
<text x="693.6" y="808" font-size="12.8" fill="#333">I<tspan font-size="8.6" dy="2.4">OUT</tspan></text>
<text x="660.3" y="881.2" font-size="13.2" text-anchor="start" font-weight="normal" fill="#222" >10 T</text>
</svg></body></html>
